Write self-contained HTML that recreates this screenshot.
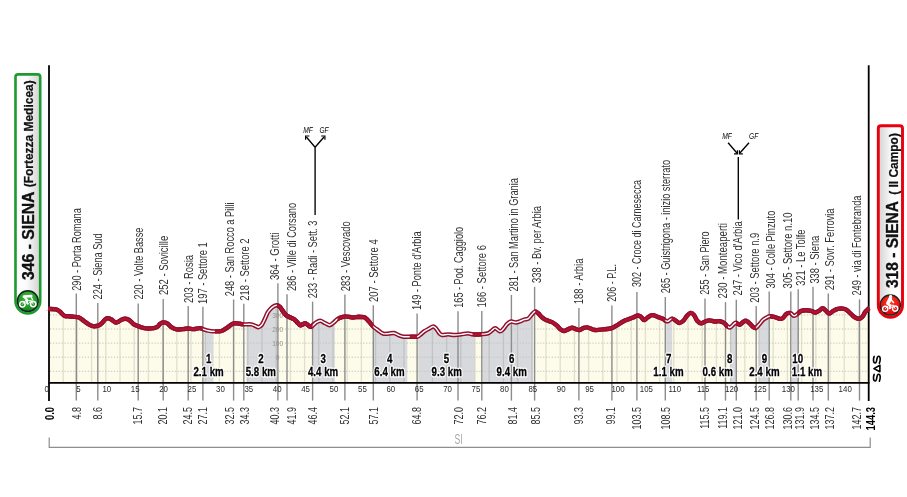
<!DOCTYPE html>
<html lang="en"><head><meta charset="utf-8"><title>Strade Bianche - Altimetria</title>
<style>html,body{margin:0;padding:0;background:#fff}svg{display:block;will-change:transform}text{font-family:"Liberation Sans",sans-serif}</style>
</head><body>
<svg width="907" height="497" viewBox="0 0 907 497">
<defs>
<clipPath id="ua"><path d="M48.0 308.8C48.2 308.8 47.7 308.8 49.0 308.9C50.3 309.0 54.1 308.9 55.9 309.3C57.7 309.7 58.4 310.4 59.8 311.5C61.2 312.6 63.1 315.1 64.5 315.9C65.9 316.7 67.0 316.0 68.4 316.2C69.8 316.4 71.3 316.6 73.1 316.8C74.9 317.0 77.2 316.8 79.0 317.5C80.8 318.2 82.2 319.7 83.7 320.8C85.2 321.9 86.8 323.2 88.3 324.1C89.8 325.0 91.2 325.8 92.9 326.1C94.6 326.4 96.7 326.2 98.2 325.7C99.8 325.1 101.0 323.9 102.2 322.8C103.4 321.7 104.5 319.9 105.5 319.1C106.5 318.3 107.1 318.1 108.1 318.2C109.1 318.3 110.2 318.8 111.4 319.5C112.6 320.2 114.3 322.0 115.4 322.4C116.5 322.8 117.0 322.4 118.1 321.9C119.2 321.4 120.8 320.0 122.0 319.5C123.2 319.0 124.1 318.7 125.3 318.8C126.5 318.9 127.9 319.2 129.3 320.1C130.7 321.0 132.4 323.3 133.9 324.4C135.4 325.4 137.1 325.8 138.6 326.4C140.1 327.0 141.5 327.4 143.2 327.8C144.8 328.2 146.7 328.4 148.5 328.5C150.3 328.6 152.2 328.4 153.8 328.1C155.4 327.8 156.8 327.2 157.8 326.5C158.8 325.8 159.0 324.8 159.9 324.1C160.8 323.4 162.0 322.5 163.2 322.4C164.4 322.3 165.8 322.6 167.2 323.4C168.6 324.2 170.2 326.4 171.8 327.4C173.4 328.4 174.6 329.1 176.5 329.4C178.4 329.7 181.1 329.2 183.1 329.1C185.1 329.0 186.6 328.5 188.4 328.5C190.2 328.5 191.8 329.2 193.7 329.1C195.6 329.0 198.1 328.1 199.6 328.1C201.1 328.1 201.5 328.7 202.9 329.1C204.3 329.5 206.3 330.3 208.2 330.7C210.1 331.1 212.0 331.3 214.2 331.4C216.4 331.4 219.3 331.6 221.4 331.0C223.5 330.4 224.9 329.2 226.7 328.1C228.5 327.0 230.7 324.9 232.0 324.1C233.3 323.3 233.4 323.3 234.7 323.2C236.0 323.1 238.5 323.5 240.0 323.7C241.5 323.9 242.0 324.3 243.9 324.4C245.8 324.5 249.2 324.1 251.2 324.4C253.2 324.7 254.6 325.6 255.8 326.1C257.0 326.6 257.5 327.4 258.5 327.2C259.5 327.0 260.7 326.2 261.8 324.8C262.9 323.4 264.0 320.6 265.0 318.5C266.0 316.4 266.8 314.0 267.9 312.2C269.0 310.4 270.5 308.8 271.9 307.6C273.3 306.5 275.2 305.4 276.5 305.3C277.8 305.2 278.7 305.9 279.8 306.9C280.9 307.9 282.1 310.1 283.2 311.5C284.3 312.9 285.3 314.5 286.5 315.5C287.7 316.5 289.1 316.8 290.4 317.5C291.7 318.2 293.2 318.6 294.4 319.5C295.6 320.4 296.7 321.9 297.7 322.8C298.7 323.8 299.2 325.1 300.4 325.2C301.6 325.3 303.8 323.5 305.0 323.4C306.2 323.3 306.6 324.2 307.6 324.8C308.6 325.4 309.6 327.1 310.9 326.8C312.2 326.5 314.1 323.8 315.6 322.8C317.2 321.8 318.7 320.8 320.2 320.8C321.7 320.8 323.2 322.3 324.8 323.0C326.4 323.7 328.1 325.2 329.5 325.2C330.9 325.2 332.1 323.8 333.4 322.8C334.7 321.8 336.0 320.0 337.4 319.1C338.8 318.2 340.6 317.6 342.0 317.2C343.4 316.8 344.2 316.3 346.0 316.4C347.8 316.4 350.5 317.4 352.6 317.5C354.7 317.6 356.7 316.9 358.6 316.8C360.5 316.8 362.5 316.8 363.9 317.2C365.3 317.6 366.1 318.5 367.2 319.5C368.3 320.5 369.5 322.2 370.5 323.4C371.5 324.6 371.9 325.4 373.1 326.5C374.3 327.6 376.2 328.9 377.9 330.1C379.6 331.3 381.4 333.0 383.2 333.6C385.0 334.2 386.7 333.7 388.5 333.6C390.3 333.5 392.0 332.7 393.8 333.0C395.6 333.3 397.5 334.8 399.1 335.4C400.8 336.0 402.1 336.5 403.7 336.7C405.2 336.9 406.2 336.7 408.4 336.7C410.6 336.7 415.0 337.0 417.0 336.7C419.0 336.4 419.1 335.6 420.3 334.7C421.5 333.8 422.8 332.4 424.2 331.4C425.6 330.4 427.4 329.5 428.9 328.7C430.4 327.9 432.0 326.5 433.2 326.5C434.4 326.5 435.1 327.6 436.2 328.7C437.2 329.8 438.5 332.3 439.5 333.4C440.5 334.4 440.7 334.8 442.1 335.0C443.5 335.2 446.0 334.4 448.1 334.4C450.2 334.4 452.5 335.0 454.7 335.0C456.9 335.0 459.1 334.7 461.3 334.4C463.5 334.1 465.9 333.4 467.9 333.4C469.9 333.4 471.0 334.3 473.2 334.4C475.4 334.5 478.7 334.4 481.1 334.2C483.6 334.0 486.1 334.0 487.9 333.4C489.7 332.8 490.7 331.4 491.9 330.5C493.1 329.6 493.9 328.0 495.2 328.1C496.5 328.2 498.5 331.2 499.8 331.4C501.1 331.6 502.0 330.3 503.2 329.1C504.4 327.9 505.8 325.4 507.1 324.1C508.4 322.8 509.7 321.8 511.1 321.5C512.5 321.2 514.3 322.5 515.7 322.5C517.1 322.5 518.3 322.0 519.7 321.5C521.1 321.0 522.9 320.0 524.3 319.5C525.7 319.0 527.1 319.4 528.3 318.6C529.5 317.8 530.5 316.0 531.6 314.8C532.7 313.6 533.8 311.8 534.9 311.5C536.0 311.2 537.0 312.3 538.2 313.3C539.4 314.3 540.9 316.4 542.2 317.5C543.5 318.6 544.6 319.3 546.2 320.1C547.9 320.9 550.4 321.2 552.1 322.1C553.9 323.0 555.3 324.2 556.7 325.4C558.1 326.6 559.5 328.5 560.7 329.4C561.9 330.3 562.8 331.0 564.0 331.0C565.2 331.0 566.7 329.9 568.0 329.4C569.3 328.8 570.6 327.8 571.9 327.7C573.2 327.6 574.7 328.7 575.9 329.1C577.1 329.5 578.0 330.3 579.2 330.1C580.4 329.9 581.9 328.6 583.2 328.1C584.5 327.7 585.7 327.2 587.2 327.4C588.8 327.6 591.0 328.9 592.5 329.4C594.0 329.8 594.6 330.1 596.4 330.1C598.2 330.1 600.6 329.7 603.2 329.4C605.8 329.1 609.4 328.9 611.8 328.1C614.2 327.3 615.7 326.0 617.8 324.8C619.9 323.6 622.0 322.0 624.4 320.8C626.8 319.6 630.1 318.7 632.3 317.8C634.5 316.9 636.2 315.7 637.6 315.5C639.0 315.3 639.8 316.0 640.9 316.8C642.0 317.6 643.1 320.0 644.2 320.1C645.3 320.2 646.3 318.3 647.6 317.5C648.9 316.7 650.6 315.2 652.2 315.1C653.9 315.0 655.7 316.2 657.5 316.8C659.3 317.4 661.4 318.1 662.8 318.8C664.2 319.5 664.8 320.4 665.7 320.8C666.6 321.2 667.1 321.6 668.1 321.2C669.1 320.8 670.7 318.7 672.0 318.6C673.3 318.5 674.8 320.1 676.0 320.8C677.2 321.5 678.1 323.0 679.3 323.0C680.5 323.0 682.0 322.1 683.3 320.8C684.6 319.6 686.0 316.8 687.2 315.5C688.4 314.2 689.5 313.0 690.6 312.9C691.7 312.8 692.8 313.5 693.9 314.8C695.0 316.1 696.0 319.4 697.2 320.8C698.4 322.2 699.8 323.3 701.1 323.4C702.4 323.5 703.7 322.0 705.1 321.5C706.5 321.0 707.7 320.4 709.3 320.4C710.9 320.4 712.9 321.4 714.6 321.5C716.4 321.6 718.3 321.0 719.8 321.2C721.3 321.4 722.5 321.9 723.8 322.8C725.1 323.7 726.7 325.7 727.8 326.5C728.9 327.3 729.3 327.7 730.2 327.4C731.1 327.1 732.2 325.6 733.1 324.8C734.0 324.0 734.6 322.8 735.7 322.8C736.8 322.8 738.5 324.9 739.7 324.8C740.9 324.7 741.9 322.8 743.0 322.1C744.1 321.4 745.2 320.6 746.3 320.8C747.4 321.0 748.5 322.4 749.6 323.4C750.7 324.4 751.9 326.0 752.9 326.8C753.9 327.6 754.6 328.4 755.6 328.1C756.6 327.8 757.7 326.1 758.9 324.8C760.1 323.5 761.5 321.3 762.8 320.1C764.1 318.9 765.7 318.1 766.8 317.5C767.9 316.9 768.3 316.3 769.5 316.2C770.7 316.1 772.5 316.4 774.1 316.8C775.8 317.2 778.0 318.6 779.4 318.8C780.8 319.0 781.6 319.0 782.7 318.2C783.8 317.4 784.9 315.1 786.0 314.2C787.1 313.3 788.4 313.0 789.3 312.9C790.2 312.8 790.5 313.0 791.3 313.5C792.1 314.0 793.1 315.9 794.2 315.9C795.3 315.9 796.7 314.3 797.9 313.5C799.1 312.7 799.9 311.4 801.2 310.9C802.5 310.3 804.1 310.2 805.8 310.2C807.4 310.2 809.5 310.5 811.1 310.9C812.7 311.3 814.0 312.4 815.1 312.5C816.2 312.6 817.0 311.8 817.7 311.5C818.4 311.2 818.6 311.2 819.4 310.6C820.2 310.1 821.6 308.1 822.7 308.2C823.8 308.2 824.9 310.0 826.0 310.9C827.1 311.8 828.1 313.5 829.3 313.5C830.5 313.5 831.9 311.7 833.3 310.9C834.7 310.1 836.3 309.3 837.9 308.9C839.5 308.5 841.2 308.5 842.6 308.6C844.0 308.8 845.2 309.0 846.5 309.8C847.8 310.6 849.2 312.3 850.5 313.5C851.8 314.7 853.1 316.3 854.5 317.2C855.9 318.1 857.8 318.9 859.1 318.8C860.4 318.7 861.4 317.9 862.4 316.8C863.4 315.7 864.1 313.5 865.1 312.2C866.1 310.9 867.7 309.6 868.4 308.9C869.1 308.2 869.2 308.1 869.4 308.0L869.4 382.4 L48.0 382.4 Z"/></clipPath>
<clipPath id="sw"><rect x="202.9" y="290" width="12.0" height="100"/><rect x="243.8" y="290" width="33.0" height="100"/><rect x="312.6" y="290" width="24.9" height="100"/><rect x="373.3" y="290" width="36.4" height="100"/><rect x="417.1" y="290" width="55.4" height="100"/><rect x="481.8" y="290" width="53.4" height="100"/><rect x="665.3" y="290" width="6.2" height="100"/><rect x="728.0" y="290" width="8.0" height="100"/><rect x="756.2" y="290" width="13.6" height="100"/><rect x="790.8" y="290" width="6.3" height="100"/></clipPath>
<clipPath id="ns"><rect x="40.0" y="290" width="162.9" height="100"/><rect x="214.9" y="290" width="28.9" height="100"/><rect x="276.8" y="290" width="35.8" height="100"/><rect x="337.5" y="290" width="35.8" height="100"/><rect x="409.7" y="290" width="7.4" height="100"/><rect x="472.5" y="290" width="9.3" height="100"/><rect x="535.2" y="290" width="130.1" height="100"/><rect x="671.5" y="290" width="56.5" height="100"/><rect x="736.0" y="290" width="20.2" height="100"/><rect x="769.8" y="290" width="21.0" height="100"/><rect x="797.1" y="290" width="82.9" height="100"/></clipPath>
<clipPath id="tk"><rect x="279.5" y="290" width="32.5" height="100"/></clipPath>
<linearGradient id="gl" x1="0" x2="1" y1="0" y2="0"><stop offset="0" stop-color="#fff"/><stop offset="0.45" stop-color="#fbfbfb"/><stop offset="1" stop-color="#d2d2d2"/></linearGradient>
<linearGradient id="gr" x1="0" x2="1" y1="0" y2="0"><stop offset="0" stop-color="#d2d2d2"/><stop offset="0.55" stop-color="#fbfbfb"/><stop offset="1" stop-color="#fff"/></linearGradient>
<radialGradient id="gg" cx="0.5" cy="0.35" r="0.7"><stop offset="0" stop-color="#3fbf3f"/><stop offset="1" stop-color="#0f7d1c"/></radialGradient>
<radialGradient id="rg" cx="0.5" cy="0.35" r="0.7"><stop offset="0" stop-color="#ff3a20"/><stop offset="1" stop-color="#d80010"/></radialGradient>
</defs>
<rect width="907" height="497" fill="#fff"/>
<path d="M48.0 308.8C48.2 308.8 47.7 308.8 49.0 308.9C50.3 309.0 54.1 308.9 55.9 309.3C57.7 309.7 58.4 310.4 59.8 311.5C61.2 312.6 63.1 315.1 64.5 315.9C65.9 316.7 67.0 316.0 68.4 316.2C69.8 316.4 71.3 316.6 73.1 316.8C74.9 317.0 77.2 316.8 79.0 317.5C80.8 318.2 82.2 319.7 83.7 320.8C85.2 321.9 86.8 323.2 88.3 324.1C89.8 325.0 91.2 325.8 92.9 326.1C94.6 326.4 96.7 326.2 98.2 325.7C99.8 325.1 101.0 323.9 102.2 322.8C103.4 321.7 104.5 319.9 105.5 319.1C106.5 318.3 107.1 318.1 108.1 318.2C109.1 318.3 110.2 318.8 111.4 319.5C112.6 320.2 114.3 322.0 115.4 322.4C116.5 322.8 117.0 322.4 118.1 321.9C119.2 321.4 120.8 320.0 122.0 319.5C123.2 319.0 124.1 318.7 125.3 318.8C126.5 318.9 127.9 319.2 129.3 320.1C130.7 321.0 132.4 323.3 133.9 324.4C135.4 325.4 137.1 325.8 138.6 326.4C140.1 327.0 141.5 327.4 143.2 327.8C144.8 328.2 146.7 328.4 148.5 328.5C150.3 328.6 152.2 328.4 153.8 328.1C155.4 327.8 156.8 327.2 157.8 326.5C158.8 325.8 159.0 324.8 159.9 324.1C160.8 323.4 162.0 322.5 163.2 322.4C164.4 322.3 165.8 322.6 167.2 323.4C168.6 324.2 170.2 326.4 171.8 327.4C173.4 328.4 174.6 329.1 176.5 329.4C178.4 329.7 181.1 329.2 183.1 329.1C185.1 329.0 186.6 328.5 188.4 328.5C190.2 328.5 191.8 329.2 193.7 329.1C195.6 329.0 198.1 328.1 199.6 328.1C201.1 328.1 201.5 328.7 202.9 329.1C204.3 329.5 206.3 330.3 208.2 330.7C210.1 331.1 212.0 331.3 214.2 331.4C216.4 331.4 219.3 331.6 221.4 331.0C223.5 330.4 224.9 329.2 226.7 328.1C228.5 327.0 230.7 324.9 232.0 324.1C233.3 323.3 233.4 323.3 234.7 323.2C236.0 323.1 238.5 323.5 240.0 323.7C241.5 323.9 242.0 324.3 243.9 324.4C245.8 324.5 249.2 324.1 251.2 324.4C253.2 324.7 254.6 325.6 255.8 326.1C257.0 326.6 257.5 327.4 258.5 327.2C259.5 327.0 260.7 326.2 261.8 324.8C262.9 323.4 264.0 320.6 265.0 318.5C266.0 316.4 266.8 314.0 267.9 312.2C269.0 310.4 270.5 308.8 271.9 307.6C273.3 306.5 275.2 305.4 276.5 305.3C277.8 305.2 278.7 305.9 279.8 306.9C280.9 307.9 282.1 310.1 283.2 311.5C284.3 312.9 285.3 314.5 286.5 315.5C287.7 316.5 289.1 316.8 290.4 317.5C291.7 318.2 293.2 318.6 294.4 319.5C295.6 320.4 296.7 321.9 297.7 322.8C298.7 323.8 299.2 325.1 300.4 325.2C301.6 325.3 303.8 323.5 305.0 323.4C306.2 323.3 306.6 324.2 307.6 324.8C308.6 325.4 309.6 327.1 310.9 326.8C312.2 326.5 314.1 323.8 315.6 322.8C317.2 321.8 318.7 320.8 320.2 320.8C321.7 320.8 323.2 322.3 324.8 323.0C326.4 323.7 328.1 325.2 329.5 325.2C330.9 325.2 332.1 323.8 333.4 322.8C334.7 321.8 336.0 320.0 337.4 319.1C338.8 318.2 340.6 317.6 342.0 317.2C343.4 316.8 344.2 316.3 346.0 316.4C347.8 316.4 350.5 317.4 352.6 317.5C354.7 317.6 356.7 316.9 358.6 316.8C360.5 316.8 362.5 316.8 363.9 317.2C365.3 317.6 366.1 318.5 367.2 319.5C368.3 320.5 369.5 322.2 370.5 323.4C371.5 324.6 371.9 325.4 373.1 326.5C374.3 327.6 376.2 328.9 377.9 330.1C379.6 331.3 381.4 333.0 383.2 333.6C385.0 334.2 386.7 333.7 388.5 333.6C390.3 333.5 392.0 332.7 393.8 333.0C395.6 333.3 397.5 334.8 399.1 335.4C400.8 336.0 402.1 336.5 403.7 336.7C405.2 336.9 406.2 336.7 408.4 336.7C410.6 336.7 415.0 337.0 417.0 336.7C419.0 336.4 419.1 335.6 420.3 334.7C421.5 333.8 422.8 332.4 424.2 331.4C425.6 330.4 427.4 329.5 428.9 328.7C430.4 327.9 432.0 326.5 433.2 326.5C434.4 326.5 435.1 327.6 436.2 328.7C437.2 329.8 438.5 332.3 439.5 333.4C440.5 334.4 440.7 334.8 442.1 335.0C443.5 335.2 446.0 334.4 448.1 334.4C450.2 334.4 452.5 335.0 454.7 335.0C456.9 335.0 459.1 334.7 461.3 334.4C463.5 334.1 465.9 333.4 467.9 333.4C469.9 333.4 471.0 334.3 473.2 334.4C475.4 334.5 478.7 334.4 481.1 334.2C483.6 334.0 486.1 334.0 487.9 333.4C489.7 332.8 490.7 331.4 491.9 330.5C493.1 329.6 493.9 328.0 495.2 328.1C496.5 328.2 498.5 331.2 499.8 331.4C501.1 331.6 502.0 330.3 503.2 329.1C504.4 327.9 505.8 325.4 507.1 324.1C508.4 322.8 509.7 321.8 511.1 321.5C512.5 321.2 514.3 322.5 515.7 322.5C517.1 322.5 518.3 322.0 519.7 321.5C521.1 321.0 522.9 320.0 524.3 319.5C525.7 319.0 527.1 319.4 528.3 318.6C529.5 317.8 530.5 316.0 531.6 314.8C532.7 313.6 533.8 311.8 534.9 311.5C536.0 311.2 537.0 312.3 538.2 313.3C539.4 314.3 540.9 316.4 542.2 317.5C543.5 318.6 544.6 319.3 546.2 320.1C547.9 320.9 550.4 321.2 552.1 322.1C553.9 323.0 555.3 324.2 556.7 325.4C558.1 326.6 559.5 328.5 560.7 329.4C561.9 330.3 562.8 331.0 564.0 331.0C565.2 331.0 566.7 329.9 568.0 329.4C569.3 328.8 570.6 327.8 571.9 327.7C573.2 327.6 574.7 328.7 575.9 329.1C577.1 329.5 578.0 330.3 579.2 330.1C580.4 329.9 581.9 328.6 583.2 328.1C584.5 327.7 585.7 327.2 587.2 327.4C588.8 327.6 591.0 328.9 592.5 329.4C594.0 329.8 594.6 330.1 596.4 330.1C598.2 330.1 600.6 329.7 603.2 329.4C605.8 329.1 609.4 328.9 611.8 328.1C614.2 327.3 615.7 326.0 617.8 324.8C619.9 323.6 622.0 322.0 624.4 320.8C626.8 319.6 630.1 318.7 632.3 317.8C634.5 316.9 636.2 315.7 637.6 315.5C639.0 315.3 639.8 316.0 640.9 316.8C642.0 317.6 643.1 320.0 644.2 320.1C645.3 320.2 646.3 318.3 647.6 317.5C648.9 316.7 650.6 315.2 652.2 315.1C653.9 315.0 655.7 316.2 657.5 316.8C659.3 317.4 661.4 318.1 662.8 318.8C664.2 319.5 664.8 320.4 665.7 320.8C666.6 321.2 667.1 321.6 668.1 321.2C669.1 320.8 670.7 318.7 672.0 318.6C673.3 318.5 674.8 320.1 676.0 320.8C677.2 321.5 678.1 323.0 679.3 323.0C680.5 323.0 682.0 322.1 683.3 320.8C684.6 319.6 686.0 316.8 687.2 315.5C688.4 314.2 689.5 313.0 690.6 312.9C691.7 312.8 692.8 313.5 693.9 314.8C695.0 316.1 696.0 319.4 697.2 320.8C698.4 322.2 699.8 323.3 701.1 323.4C702.4 323.5 703.7 322.0 705.1 321.5C706.5 321.0 707.7 320.4 709.3 320.4C710.9 320.4 712.9 321.4 714.6 321.5C716.4 321.6 718.3 321.0 719.8 321.2C721.3 321.4 722.5 321.9 723.8 322.8C725.1 323.7 726.7 325.7 727.8 326.5C728.9 327.3 729.3 327.7 730.2 327.4C731.1 327.1 732.2 325.6 733.1 324.8C734.0 324.0 734.6 322.8 735.7 322.8C736.8 322.8 738.5 324.9 739.7 324.8C740.9 324.7 741.9 322.8 743.0 322.1C744.1 321.4 745.2 320.6 746.3 320.8C747.4 321.0 748.5 322.4 749.6 323.4C750.7 324.4 751.9 326.0 752.9 326.8C753.9 327.6 754.6 328.4 755.6 328.1C756.6 327.8 757.7 326.1 758.9 324.8C760.1 323.5 761.5 321.3 762.8 320.1C764.1 318.9 765.7 318.1 766.8 317.5C767.9 316.9 768.3 316.3 769.5 316.2C770.7 316.1 772.5 316.4 774.1 316.8C775.8 317.2 778.0 318.6 779.4 318.8C780.8 319.0 781.6 319.0 782.7 318.2C783.8 317.4 784.9 315.1 786.0 314.2C787.1 313.3 788.4 313.0 789.3 312.9C790.2 312.8 790.5 313.0 791.3 313.5C792.1 314.0 793.1 315.9 794.2 315.9C795.3 315.9 796.7 314.3 797.9 313.5C799.1 312.7 799.9 311.4 801.2 310.9C802.5 310.3 804.1 310.2 805.8 310.2C807.4 310.2 809.5 310.5 811.1 310.9C812.7 311.3 814.0 312.4 815.1 312.5C816.2 312.6 817.0 311.8 817.7 311.5C818.4 311.2 818.6 311.2 819.4 310.6C820.2 310.1 821.6 308.1 822.7 308.2C823.8 308.2 824.9 310.0 826.0 310.9C827.1 311.8 828.1 313.5 829.3 313.5C830.5 313.5 831.9 311.7 833.3 310.9C834.7 310.1 836.3 309.3 837.9 308.9C839.5 308.5 841.2 308.5 842.6 308.6C844.0 308.8 845.2 309.0 846.5 309.8C847.8 310.6 849.2 312.3 850.5 313.5C851.8 314.7 853.1 316.3 854.5 317.2C855.9 318.1 857.8 318.9 859.1 318.8C860.4 318.7 861.4 317.9 862.4 316.8C863.4 315.7 864.1 313.5 865.1 312.2C866.1 310.9 867.7 309.6 868.4 308.9C869.1 308.2 869.2 308.1 869.4 308.0L869.4 382.4 L48.0 382.4 Z" fill="#fdfbe9"/>
<g clip-path="url(#ua)">
<rect x="204.5" y="295" width="9.0" height="90" fill="#d8d9dd"/>
<rect x="246.5" y="295" width="30.8" height="90" fill="#d8d9dd"/>
<rect x="313.2" y="295" width="21.6" height="90" fill="#d8d9dd"/>
<rect x="374.0" y="295" width="33.3" height="90" fill="#d8d9dd"/>
<rect x="419.0" y="295" width="55.6" height="90" fill="#d8d9dd"/>
<rect x="482.6" y="295" width="50.6" height="90" fill="#d8d9dd"/>
<rect x="666.2" y="295" width="6.0" height="90" fill="#d8d9dd"/>
<rect x="730.0" y="295" width="5.9" height="90" fill="#d8d9dd"/>
<rect x="758.6" y="295" width="10.3" height="90" fill="#d8d9dd"/>
<rect x="791.8" y="295" width="6.6" height="90" fill="#d8d9dd"/>
<line x1="63.2" y1="295" x2="63.2" y2="383" stroke="#5a5a46" stroke-opacity="0.17" stroke-width="1.3"/>
<line x1="77.4" y1="295" x2="77.4" y2="383" stroke="#5a5a46" stroke-opacity="0.17" stroke-width="1.3"/>
<line x1="91.6" y1="295" x2="91.6" y2="383" stroke="#5a5a46" stroke-opacity="0.17" stroke-width="1.3"/>
<line x1="105.8" y1="295" x2="105.8" y2="383" stroke="#5a5a46" stroke-opacity="0.17" stroke-width="1.3"/>
<line x1="120.0" y1="295" x2="120.0" y2="383" stroke="#5a5a46" stroke-opacity="0.17" stroke-width="1.3"/>
<line x1="134.2" y1="295" x2="134.2" y2="383" stroke="#5a5a46" stroke-opacity="0.17" stroke-width="1.3"/>
<line x1="148.4" y1="295" x2="148.4" y2="383" stroke="#5a5a46" stroke-opacity="0.17" stroke-width="1.3"/>
<line x1="162.6" y1="295" x2="162.6" y2="383" stroke="#5a5a46" stroke-opacity="0.17" stroke-width="1.3"/>
<line x1="176.8" y1="295" x2="176.8" y2="383" stroke="#5a5a46" stroke-opacity="0.17" stroke-width="1.3"/>
<line x1="191.0" y1="295" x2="191.0" y2="383" stroke="#5a5a46" stroke-opacity="0.17" stroke-width="1.3"/>
<line x1="205.2" y1="295" x2="205.2" y2="383" stroke="#5a5a46" stroke-opacity="0.17" stroke-width="1.3"/>
<line x1="219.4" y1="295" x2="219.4" y2="383" stroke="#5a5a46" stroke-opacity="0.17" stroke-width="1.3"/>
<line x1="233.6" y1="295" x2="233.6" y2="383" stroke="#5a5a46" stroke-opacity="0.17" stroke-width="1.3"/>
<line x1="247.8" y1="295" x2="247.8" y2="383" stroke="#5a5a46" stroke-opacity="0.17" stroke-width="1.3"/>
<line x1="262.0" y1="295" x2="262.0" y2="383" stroke="#5a5a46" stroke-opacity="0.17" stroke-width="1.3"/>
<line x1="276.2" y1="295" x2="276.2" y2="383" stroke="#5a5a46" stroke-opacity="0.17" stroke-width="1.3"/>
<line x1="290.4" y1="295" x2="290.4" y2="383" stroke="#5a5a46" stroke-opacity="0.17" stroke-width="1.3"/>
<line x1="304.6" y1="295" x2="304.6" y2="383" stroke="#5a5a46" stroke-opacity="0.17" stroke-width="1.3"/>
<line x1="318.8" y1="295" x2="318.8" y2="383" stroke="#5a5a46" stroke-opacity="0.17" stroke-width="1.3"/>
<line x1="333.0" y1="295" x2="333.0" y2="383" stroke="#5a5a46" stroke-opacity="0.17" stroke-width="1.3"/>
<line x1="347.2" y1="295" x2="347.2" y2="383" stroke="#5a5a46" stroke-opacity="0.17" stroke-width="1.3"/>
<line x1="361.4" y1="295" x2="361.4" y2="383" stroke="#5a5a46" stroke-opacity="0.17" stroke-width="1.3"/>
<line x1="375.6" y1="295" x2="375.6" y2="383" stroke="#5a5a46" stroke-opacity="0.17" stroke-width="1.3"/>
<line x1="389.8" y1="295" x2="389.8" y2="383" stroke="#5a5a46" stroke-opacity="0.17" stroke-width="1.3"/>
<line x1="404.0" y1="295" x2="404.0" y2="383" stroke="#5a5a46" stroke-opacity="0.17" stroke-width="1.3"/>
<line x1="418.2" y1="295" x2="418.2" y2="383" stroke="#5a5a46" stroke-opacity="0.17" stroke-width="1.3"/>
<line x1="432.4" y1="295" x2="432.4" y2="383" stroke="#5a5a46" stroke-opacity="0.17" stroke-width="1.3"/>
<line x1="446.6" y1="295" x2="446.6" y2="383" stroke="#5a5a46" stroke-opacity="0.17" stroke-width="1.3"/>
<line x1="460.8" y1="295" x2="460.8" y2="383" stroke="#5a5a46" stroke-opacity="0.17" stroke-width="1.3"/>
<line x1="475.0" y1="295" x2="475.0" y2="383" stroke="#5a5a46" stroke-opacity="0.17" stroke-width="1.3"/>
<line x1="489.2" y1="295" x2="489.2" y2="383" stroke="#5a5a46" stroke-opacity="0.17" stroke-width="1.3"/>
<line x1="503.4" y1="295" x2="503.4" y2="383" stroke="#5a5a46" stroke-opacity="0.17" stroke-width="1.3"/>
<line x1="517.6" y1="295" x2="517.6" y2="383" stroke="#5a5a46" stroke-opacity="0.17" stroke-width="1.3"/>
<line x1="531.8" y1="295" x2="531.8" y2="383" stroke="#5a5a46" stroke-opacity="0.17" stroke-width="1.3"/>
<line x1="546.0" y1="295" x2="546.0" y2="383" stroke="#5a5a46" stroke-opacity="0.17" stroke-width="1.3"/>
<line x1="560.2" y1="295" x2="560.2" y2="383" stroke="#5a5a46" stroke-opacity="0.17" stroke-width="1.3"/>
<line x1="574.4" y1="295" x2="574.4" y2="383" stroke="#5a5a46" stroke-opacity="0.17" stroke-width="1.3"/>
<line x1="588.6" y1="295" x2="588.6" y2="383" stroke="#5a5a46" stroke-opacity="0.17" stroke-width="1.3"/>
<line x1="602.8" y1="295" x2="602.8" y2="383" stroke="#5a5a46" stroke-opacity="0.17" stroke-width="1.3"/>
<line x1="617.0" y1="295" x2="617.0" y2="383" stroke="#5a5a46" stroke-opacity="0.17" stroke-width="1.3"/>
<line x1="631.2" y1="295" x2="631.2" y2="383" stroke="#5a5a46" stroke-opacity="0.17" stroke-width="1.3"/>
<line x1="645.4" y1="295" x2="645.4" y2="383" stroke="#5a5a46" stroke-opacity="0.17" stroke-width="1.3"/>
<line x1="659.6" y1="295" x2="659.6" y2="383" stroke="#5a5a46" stroke-opacity="0.17" stroke-width="1.3"/>
<line x1="673.8" y1="295" x2="673.8" y2="383" stroke="#5a5a46" stroke-opacity="0.17" stroke-width="1.3"/>
<line x1="688.0" y1="295" x2="688.0" y2="383" stroke="#5a5a46" stroke-opacity="0.17" stroke-width="1.3"/>
<line x1="702.2" y1="295" x2="702.2" y2="383" stroke="#5a5a46" stroke-opacity="0.17" stroke-width="1.3"/>
<line x1="716.4" y1="295" x2="716.4" y2="383" stroke="#5a5a46" stroke-opacity="0.17" stroke-width="1.3"/>
<line x1="730.6" y1="295" x2="730.6" y2="383" stroke="#5a5a46" stroke-opacity="0.17" stroke-width="1.3"/>
<line x1="744.8" y1="295" x2="744.8" y2="383" stroke="#5a5a46" stroke-opacity="0.17" stroke-width="1.3"/>
<line x1="759.0" y1="295" x2="759.0" y2="383" stroke="#5a5a46" stroke-opacity="0.17" stroke-width="1.3"/>
<line x1="773.2" y1="295" x2="773.2" y2="383" stroke="#5a5a46" stroke-opacity="0.17" stroke-width="1.3"/>
<line x1="787.4" y1="295" x2="787.4" y2="383" stroke="#5a5a46" stroke-opacity="0.17" stroke-width="1.3"/>
<line x1="801.6" y1="295" x2="801.6" y2="383" stroke="#5a5a46" stroke-opacity="0.17" stroke-width="1.3"/>
<line x1="815.8" y1="295" x2="815.8" y2="383" stroke="#5a5a46" stroke-opacity="0.17" stroke-width="1.3"/>
<line x1="830.0" y1="295" x2="830.0" y2="383" stroke="#5a5a46" stroke-opacity="0.17" stroke-width="1.3"/>
<line x1="844.2" y1="295" x2="844.2" y2="383" stroke="#5a5a46" stroke-opacity="0.17" stroke-width="1.3"/>
<line x1="858.4" y1="295" x2="858.4" y2="383" stroke="#5a5a46" stroke-opacity="0.17" stroke-width="1.3"/>
<line x1="50" y1="314.9" x2="868" y2="314.9" stroke="#c4c4c4" stroke-width="1" stroke-dasharray="1.3 1.6"/>
<line x1="50" y1="329.0" x2="868" y2="329.0" stroke="#c4c4c4" stroke-width="1" stroke-dasharray="1.3 1.6"/>
<line x1="50" y1="343.1" x2="868" y2="343.1" stroke="#c4c4c4" stroke-width="1" stroke-dasharray="1.3 1.6"/>
<line x1="50" y1="357.2" x2="868" y2="357.2" stroke="#c4c4c4" stroke-width="1" stroke-dasharray="1.3 1.6"/>
<line x1="50" y1="371.3" x2="868" y2="371.3" stroke="#c4c4c4" stroke-width="1" stroke-dasharray="1.3 1.6"/>
</g>
<text transform="translate(277.6 317.6) scale(0.85 1)" font-size="7.6" text-anchor="middle" fill="#8e8e8e">300</text>
<text transform="translate(277.6 331.7) scale(0.85 1)" font-size="7.6" text-anchor="middle" fill="#8e8e8e">200</text>
<text transform="translate(277.6 345.8) scale(0.85 1)" font-size="7.6" text-anchor="middle" fill="#8e8e8e">100</text>
<text transform="translate(277.6 359.9) scale(0.85 1)" font-size="7.6" text-anchor="middle" fill="#8e8e8e">0</text>
<line x1="76.3" y1="293.6" x2="76.3" y2="400.6" stroke="#8c8c8c" stroke-width="1.4"/>
<line x1="97.8" y1="302.9" x2="97.8" y2="400.6" stroke="#8c8c8c" stroke-width="1.4"/>
<line x1="138.2" y1="303.5" x2="138.2" y2="400.6" stroke="#8c8c8c" stroke-width="1.4"/>
<line x1="163.2" y1="299.0" x2="163.2" y2="400.6" stroke="#8c8c8c" stroke-width="1.4"/>
<line x1="188.2" y1="305.9" x2="188.2" y2="400.6" stroke="#8c8c8c" stroke-width="1.4"/>
<line x1="202.9" y1="306.7" x2="202.9" y2="400.6" stroke="#8c8c8c" stroke-width="1.4"/>
<line x1="233.6" y1="299.5" x2="233.6" y2="400.6" stroke="#8c8c8c" stroke-width="1.4"/>
<line x1="243.8" y1="303.8" x2="243.8" y2="400.6" stroke="#8c8c8c" stroke-width="1.4"/>
<line x1="277.9" y1="283.2" x2="277.9" y2="400.6" stroke="#8c8c8c" stroke-width="1.4"/>
<line x1="287.0" y1="294.2" x2="287.0" y2="400.6" stroke="#8c8c8c" stroke-width="1.4"/>
<line x1="312.6" y1="301.6" x2="312.6" y2="400.6" stroke="#8c8c8c" stroke-width="1.4"/>
<line x1="344.9" y1="294.6" x2="344.9" y2="400.6" stroke="#8c8c8c" stroke-width="1.4"/>
<line x1="373.3" y1="305.3" x2="373.3" y2="400.6" stroke="#8c8c8c" stroke-width="1.4"/>
<line x1="417.1" y1="313.5" x2="417.1" y2="400.6" stroke="#8c8c8c" stroke-width="1.4"/>
<line x1="458.0" y1="311.2" x2="458.0" y2="400.6" stroke="#8c8c8c" stroke-width="1.4"/>
<line x1="481.8" y1="311.1" x2="481.8" y2="400.6" stroke="#8c8c8c" stroke-width="1.4"/>
<line x1="511.4" y1="294.9" x2="511.4" y2="400.6" stroke="#8c8c8c" stroke-width="1.4"/>
<line x1="534.6" y1="286.8" x2="534.6" y2="400.6" stroke="#8c8c8c" stroke-width="1.4"/>
<line x1="578.9" y1="308.0" x2="578.9" y2="400.6" stroke="#8c8c8c" stroke-width="1.4"/>
<line x1="611.9" y1="305.5" x2="611.9" y2="400.6" stroke="#8c8c8c" stroke-width="1.4"/>
<line x1="636.9" y1="291.9" x2="636.9" y2="400.6" stroke="#8c8c8c" stroke-width="1.4"/>
<line x1="665.3" y1="297.1" x2="665.3" y2="400.6" stroke="#8c8c8c" stroke-width="1.4"/>
<line x1="705.0" y1="298.5" x2="705.0" y2="400.6" stroke="#8c8c8c" stroke-width="1.4"/>
<line x1="725.5" y1="302.1" x2="725.5" y2="400.6" stroke="#8c8c8c" stroke-width="1.4"/>
<line x1="736.3" y1="299.7" x2="736.3" y2="400.6" stroke="#8c8c8c" stroke-width="1.4"/>
<line x1="756.2" y1="305.9" x2="756.2" y2="400.6" stroke="#8c8c8c" stroke-width="1.4"/>
<line x1="769.2" y1="291.6" x2="769.2" y2="400.6" stroke="#8c8c8c" stroke-width="1.4"/>
<line x1="790.8" y1="291.5" x2="790.8" y2="400.6" stroke="#8c8c8c" stroke-width="1.4"/>
<line x1="798.2" y1="289.2" x2="798.2" y2="400.6" stroke="#8c8c8c" stroke-width="1.4"/>
<line x1="813.0" y1="286.8" x2="813.0" y2="400.6" stroke="#8c8c8c" stroke-width="1.4"/>
<line x1="828.3" y1="293.5" x2="828.3" y2="400.6" stroke="#8c8c8c" stroke-width="1.4"/>
<line x1="859.5" y1="299.4" x2="859.5" y2="400.6" stroke="#8c8c8c" stroke-width="1.4"/>
<line x1="48.2" y1="382.8" x2="869.5" y2="382.8" stroke="#000" stroke-width="1.8"/>
<line x1="49" y1="65.3" x2="49" y2="400.9" stroke="#000" stroke-width="1.8"/>
<line x1="868.7" y1="65.3" x2="868.7" y2="400.9" stroke="#000" stroke-width="1.8"/>
<path id="pl" d="M48.0 308.8C48.2 308.8 47.7 308.8 49.0 308.9C50.3 309.0 54.1 308.9 55.9 309.3C57.7 309.7 58.4 310.4 59.8 311.5C61.2 312.6 63.1 315.1 64.5 315.9C65.9 316.7 67.0 316.0 68.4 316.2C69.8 316.4 71.3 316.6 73.1 316.8C74.9 317.0 77.2 316.8 79.0 317.5C80.8 318.2 82.2 319.7 83.7 320.8C85.2 321.9 86.8 323.2 88.3 324.1C89.8 325.0 91.2 325.8 92.9 326.1C94.6 326.4 96.7 326.2 98.2 325.7C99.8 325.1 101.0 323.9 102.2 322.8C103.4 321.7 104.5 319.9 105.5 319.1C106.5 318.3 107.1 318.1 108.1 318.2C109.1 318.3 110.2 318.8 111.4 319.5C112.6 320.2 114.3 322.0 115.4 322.4C116.5 322.8 117.0 322.4 118.1 321.9C119.2 321.4 120.8 320.0 122.0 319.5C123.2 319.0 124.1 318.7 125.3 318.8C126.5 318.9 127.9 319.2 129.3 320.1C130.7 321.0 132.4 323.3 133.9 324.4C135.4 325.4 137.1 325.8 138.6 326.4C140.1 327.0 141.5 327.4 143.2 327.8C144.8 328.2 146.7 328.4 148.5 328.5C150.3 328.6 152.2 328.4 153.8 328.1C155.4 327.8 156.8 327.2 157.8 326.5C158.8 325.8 159.0 324.8 159.9 324.1C160.8 323.4 162.0 322.5 163.2 322.4C164.4 322.3 165.8 322.6 167.2 323.4C168.6 324.2 170.2 326.4 171.8 327.4C173.4 328.4 174.6 329.1 176.5 329.4C178.4 329.7 181.1 329.2 183.1 329.1C185.1 329.0 186.6 328.5 188.4 328.5C190.2 328.5 191.8 329.2 193.7 329.1C195.6 329.0 198.1 328.1 199.6 328.1C201.1 328.1 201.5 328.7 202.9 329.1C204.3 329.5 206.3 330.3 208.2 330.7C210.1 331.1 212.0 331.3 214.2 331.4C216.4 331.4 219.3 331.6 221.4 331.0C223.5 330.4 224.9 329.2 226.7 328.1C228.5 327.0 230.7 324.9 232.0 324.1C233.3 323.3 233.4 323.3 234.7 323.2C236.0 323.1 238.5 323.5 240.0 323.7C241.5 323.9 242.0 324.3 243.9 324.4C245.8 324.5 249.2 324.1 251.2 324.4C253.2 324.7 254.6 325.6 255.8 326.1C257.0 326.6 257.5 327.4 258.5 327.2C259.5 327.0 260.7 326.2 261.8 324.8C262.9 323.4 264.0 320.6 265.0 318.5C266.0 316.4 266.8 314.0 267.9 312.2C269.0 310.4 270.5 308.8 271.9 307.6C273.3 306.5 275.2 305.4 276.5 305.3C277.8 305.2 278.7 305.9 279.8 306.9C280.9 307.9 282.1 310.1 283.2 311.5C284.3 312.9 285.3 314.5 286.5 315.5C287.7 316.5 289.1 316.8 290.4 317.5C291.7 318.2 293.2 318.6 294.4 319.5C295.6 320.4 296.7 321.9 297.7 322.8C298.7 323.8 299.2 325.1 300.4 325.2C301.6 325.3 303.8 323.5 305.0 323.4C306.2 323.3 306.6 324.2 307.6 324.8C308.6 325.4 309.6 327.1 310.9 326.8C312.2 326.5 314.1 323.8 315.6 322.8C317.2 321.8 318.7 320.8 320.2 320.8C321.7 320.8 323.2 322.3 324.8 323.0C326.4 323.7 328.1 325.2 329.5 325.2C330.9 325.2 332.1 323.8 333.4 322.8C334.7 321.8 336.0 320.0 337.4 319.1C338.8 318.2 340.6 317.6 342.0 317.2C343.4 316.8 344.2 316.3 346.0 316.4C347.8 316.4 350.5 317.4 352.6 317.5C354.7 317.6 356.7 316.9 358.6 316.8C360.5 316.8 362.5 316.8 363.9 317.2C365.3 317.6 366.1 318.5 367.2 319.5C368.3 320.5 369.5 322.2 370.5 323.4C371.5 324.6 371.9 325.4 373.1 326.5C374.3 327.6 376.2 328.9 377.9 330.1C379.6 331.3 381.4 333.0 383.2 333.6C385.0 334.2 386.7 333.7 388.5 333.6C390.3 333.5 392.0 332.7 393.8 333.0C395.6 333.3 397.5 334.8 399.1 335.4C400.8 336.0 402.1 336.5 403.7 336.7C405.2 336.9 406.2 336.7 408.4 336.7C410.6 336.7 415.0 337.0 417.0 336.7C419.0 336.4 419.1 335.6 420.3 334.7C421.5 333.8 422.8 332.4 424.2 331.4C425.6 330.4 427.4 329.5 428.9 328.7C430.4 327.9 432.0 326.5 433.2 326.5C434.4 326.5 435.1 327.6 436.2 328.7C437.2 329.8 438.5 332.3 439.5 333.4C440.5 334.4 440.7 334.8 442.1 335.0C443.5 335.2 446.0 334.4 448.1 334.4C450.2 334.4 452.5 335.0 454.7 335.0C456.9 335.0 459.1 334.7 461.3 334.4C463.5 334.1 465.9 333.4 467.9 333.4C469.9 333.4 471.0 334.3 473.2 334.4C475.4 334.5 478.7 334.4 481.1 334.2C483.6 334.0 486.1 334.0 487.9 333.4C489.7 332.8 490.7 331.4 491.9 330.5C493.1 329.6 493.9 328.0 495.2 328.1C496.5 328.2 498.5 331.2 499.8 331.4C501.1 331.6 502.0 330.3 503.2 329.1C504.4 327.9 505.8 325.4 507.1 324.1C508.4 322.8 509.7 321.8 511.1 321.5C512.5 321.2 514.3 322.5 515.7 322.5C517.1 322.5 518.3 322.0 519.7 321.5C521.1 321.0 522.9 320.0 524.3 319.5C525.7 319.0 527.1 319.4 528.3 318.6C529.5 317.8 530.5 316.0 531.6 314.8C532.7 313.6 533.8 311.8 534.9 311.5C536.0 311.2 537.0 312.3 538.2 313.3C539.4 314.3 540.9 316.4 542.2 317.5C543.5 318.6 544.6 319.3 546.2 320.1C547.9 320.9 550.4 321.2 552.1 322.1C553.9 323.0 555.3 324.2 556.7 325.4C558.1 326.6 559.5 328.5 560.7 329.4C561.9 330.3 562.8 331.0 564.0 331.0C565.2 331.0 566.7 329.9 568.0 329.4C569.3 328.8 570.6 327.8 571.9 327.7C573.2 327.6 574.7 328.7 575.9 329.1C577.1 329.5 578.0 330.3 579.2 330.1C580.4 329.9 581.9 328.6 583.2 328.1C584.5 327.7 585.7 327.2 587.2 327.4C588.8 327.6 591.0 328.9 592.5 329.4C594.0 329.8 594.6 330.1 596.4 330.1C598.2 330.1 600.6 329.7 603.2 329.4C605.8 329.1 609.4 328.9 611.8 328.1C614.2 327.3 615.7 326.0 617.8 324.8C619.9 323.6 622.0 322.0 624.4 320.8C626.8 319.6 630.1 318.7 632.3 317.8C634.5 316.9 636.2 315.7 637.6 315.5C639.0 315.3 639.8 316.0 640.9 316.8C642.0 317.6 643.1 320.0 644.2 320.1C645.3 320.2 646.3 318.3 647.6 317.5C648.9 316.7 650.6 315.2 652.2 315.1C653.9 315.0 655.7 316.2 657.5 316.8C659.3 317.4 661.4 318.1 662.8 318.8C664.2 319.5 664.8 320.4 665.7 320.8C666.6 321.2 667.1 321.6 668.1 321.2C669.1 320.8 670.7 318.7 672.0 318.6C673.3 318.5 674.8 320.1 676.0 320.8C677.2 321.5 678.1 323.0 679.3 323.0C680.5 323.0 682.0 322.1 683.3 320.8C684.6 319.6 686.0 316.8 687.2 315.5C688.4 314.2 689.5 313.0 690.6 312.9C691.7 312.8 692.8 313.5 693.9 314.8C695.0 316.1 696.0 319.4 697.2 320.8C698.4 322.2 699.8 323.3 701.1 323.4C702.4 323.5 703.7 322.0 705.1 321.5C706.5 321.0 707.7 320.4 709.3 320.4C710.9 320.4 712.9 321.4 714.6 321.5C716.4 321.6 718.3 321.0 719.8 321.2C721.3 321.4 722.5 321.9 723.8 322.8C725.1 323.7 726.7 325.7 727.8 326.5C728.9 327.3 729.3 327.7 730.2 327.4C731.1 327.1 732.2 325.6 733.1 324.8C734.0 324.0 734.6 322.8 735.7 322.8C736.8 322.8 738.5 324.9 739.7 324.8C740.9 324.7 741.9 322.8 743.0 322.1C744.1 321.4 745.2 320.6 746.3 320.8C747.4 321.0 748.5 322.4 749.6 323.4C750.7 324.4 751.9 326.0 752.9 326.8C753.9 327.6 754.6 328.4 755.6 328.1C756.6 327.8 757.7 326.1 758.9 324.8C760.1 323.5 761.5 321.3 762.8 320.1C764.1 318.9 765.7 318.1 766.8 317.5C767.9 316.9 768.3 316.3 769.5 316.2C770.7 316.1 772.5 316.4 774.1 316.8C775.8 317.2 778.0 318.6 779.4 318.8C780.8 319.0 781.6 319.0 782.7 318.2C783.8 317.4 784.9 315.1 786.0 314.2C787.1 313.3 788.4 313.0 789.3 312.9C790.2 312.8 790.5 313.0 791.3 313.5C792.1 314.0 793.1 315.9 794.2 315.9C795.3 315.9 796.7 314.3 797.9 313.5C799.1 312.7 799.9 311.4 801.2 310.9C802.5 310.3 804.1 310.2 805.8 310.2C807.4 310.2 809.5 310.5 811.1 310.9C812.7 311.3 814.0 312.4 815.1 312.5C816.2 312.6 817.0 311.8 817.7 311.5C818.4 311.2 818.6 311.2 819.4 310.6C820.2 310.1 821.6 308.1 822.7 308.2C823.8 308.2 824.9 310.0 826.0 310.9C827.1 311.8 828.1 313.5 829.3 313.5C830.5 313.5 831.9 311.7 833.3 310.9C834.7 310.1 836.3 309.3 837.9 308.9C839.5 308.5 841.2 308.5 842.6 308.6C844.0 308.8 845.2 309.0 846.5 309.8C847.8 310.6 849.2 312.3 850.5 313.5C851.8 314.7 853.1 316.3 854.5 317.2C855.9 318.1 857.8 318.9 859.1 318.8C860.4 318.7 861.4 317.9 862.4 316.8C863.4 315.7 864.1 313.5 865.1 312.2C866.1 310.9 867.7 309.6 868.4 308.9C869.1 308.2 869.2 308.1 869.4 308.0" fill="none" stroke="#8f0f2c" stroke-width="4.4" stroke-linejoin="round"/>
<g clip-path="url(#ns)" fill="none" stroke-linejoin="round"><use href="#pl" stroke-width="5.2"/>
<use href="#pl" stroke-width="6.2" clip-path="url(#tk)"/>
<path d="M48.0 308.8C48.2 308.8 47.7 308.8 49.0 308.9C50.3 309.0 54.1 308.9 55.9 309.3C57.7 309.7 58.4 310.4 59.8 311.5C61.2 312.6 63.1 315.1 64.5 315.9C65.9 316.7 67.0 316.0 68.4 316.2C69.8 316.4 71.3 316.6 73.1 316.8C74.9 317.0 77.2 316.8 79.0 317.5C80.8 318.2 82.2 319.7 83.7 320.8C85.2 321.9 86.8 323.2 88.3 324.1C89.8 325.0 91.2 325.8 92.9 326.1C94.6 326.4 96.7 326.2 98.2 325.7C99.8 325.1 101.0 323.9 102.2 322.8C103.4 321.7 104.5 319.9 105.5 319.1C106.5 318.3 107.1 318.1 108.1 318.2C109.1 318.3 110.2 318.8 111.4 319.5C112.6 320.2 114.3 322.0 115.4 322.4C116.5 322.8 117.0 322.4 118.1 321.9C119.2 321.4 120.8 320.0 122.0 319.5C123.2 319.0 124.1 318.7 125.3 318.8C126.5 318.9 127.9 319.2 129.3 320.1C130.7 321.0 132.4 323.3 133.9 324.4C135.4 325.4 137.1 325.8 138.6 326.4C140.1 327.0 141.5 327.4 143.2 327.8C144.8 328.2 146.7 328.4 148.5 328.5C150.3 328.6 152.2 328.4 153.8 328.1C155.4 327.8 156.8 327.2 157.8 326.5C158.8 325.8 159.0 324.8 159.9 324.1C160.8 323.4 162.0 322.5 163.2 322.4C164.4 322.3 165.8 322.6 167.2 323.4C168.6 324.2 170.2 326.4 171.8 327.4C173.4 328.4 174.6 329.1 176.5 329.4C178.4 329.7 181.1 329.2 183.1 329.1C185.1 329.0 186.6 328.5 188.4 328.5C190.2 328.5 191.8 329.2 193.7 329.1C195.6 329.0 198.1 328.1 199.6 328.1C201.1 328.1 201.5 328.7 202.9 329.1C204.3 329.5 206.3 330.3 208.2 330.7C210.1 331.1 212.0 331.3 214.2 331.4C216.4 331.4 219.3 331.6 221.4 331.0C223.5 330.4 224.9 329.2 226.7 328.1C228.5 327.0 230.7 324.9 232.0 324.1C233.3 323.3 233.4 323.3 234.7 323.2C236.0 323.1 238.5 323.5 240.0 323.7C241.5 323.9 242.0 324.3 243.9 324.4C245.8 324.5 249.2 324.1 251.2 324.4C253.2 324.7 254.6 325.6 255.8 326.1C257.0 326.6 257.5 327.4 258.5 327.2C259.5 327.0 260.7 326.2 261.8 324.8C262.9 323.4 264.0 320.6 265.0 318.5C266.0 316.4 266.8 314.0 267.9 312.2C269.0 310.4 270.5 308.8 271.9 307.6C273.3 306.5 275.2 305.4 276.5 305.3C277.8 305.2 278.7 305.9 279.8 306.9C280.9 307.9 282.1 310.1 283.2 311.5C284.3 312.9 285.3 314.5 286.5 315.5C287.7 316.5 289.1 316.8 290.4 317.5C291.7 318.2 293.2 318.6 294.4 319.5C295.6 320.4 296.7 321.9 297.7 322.8C298.7 323.8 299.2 325.1 300.4 325.2C301.6 325.3 303.8 323.5 305.0 323.4C306.2 323.3 306.6 324.2 307.6 324.8C308.6 325.4 309.6 327.1 310.9 326.8C312.2 326.5 314.1 323.8 315.6 322.8C317.2 321.8 318.7 320.8 320.2 320.8C321.7 320.8 323.2 322.3 324.8 323.0C326.4 323.7 328.1 325.2 329.5 325.2C330.9 325.2 332.1 323.8 333.4 322.8C334.7 321.8 336.0 320.0 337.4 319.1C338.8 318.2 340.6 317.6 342.0 317.2C343.4 316.8 344.2 316.3 346.0 316.4C347.8 316.4 350.5 317.4 352.6 317.5C354.7 317.6 356.7 316.9 358.6 316.8C360.5 316.8 362.5 316.8 363.9 317.2C365.3 317.6 366.1 318.5 367.2 319.5C368.3 320.5 369.5 322.2 370.5 323.4C371.5 324.6 371.9 325.4 373.1 326.5C374.3 327.6 376.2 328.9 377.9 330.1C379.6 331.3 381.4 333.0 383.2 333.6C385.0 334.2 386.7 333.7 388.5 333.6C390.3 333.5 392.0 332.7 393.8 333.0C395.6 333.3 397.5 334.8 399.1 335.4C400.8 336.0 402.1 336.5 403.7 336.7C405.2 336.9 406.2 336.7 408.4 336.7C410.6 336.7 415.0 337.0 417.0 336.7C419.0 336.4 419.1 335.6 420.3 334.7C421.5 333.8 422.8 332.4 424.2 331.4C425.6 330.4 427.4 329.5 428.9 328.7C430.4 327.9 432.0 326.5 433.2 326.5C434.4 326.5 435.1 327.6 436.2 328.7C437.2 329.8 438.5 332.3 439.5 333.4C440.5 334.4 440.7 334.8 442.1 335.0C443.5 335.2 446.0 334.4 448.1 334.4C450.2 334.4 452.5 335.0 454.7 335.0C456.9 335.0 459.1 334.7 461.3 334.4C463.5 334.1 465.9 333.4 467.9 333.4C469.9 333.4 471.0 334.3 473.2 334.4C475.4 334.5 478.7 334.4 481.1 334.2C483.6 334.0 486.1 334.0 487.9 333.4C489.7 332.8 490.7 331.4 491.9 330.5C493.1 329.6 493.9 328.0 495.2 328.1C496.5 328.2 498.5 331.2 499.8 331.4C501.1 331.6 502.0 330.3 503.2 329.1C504.4 327.9 505.8 325.4 507.1 324.1C508.4 322.8 509.7 321.8 511.1 321.5C512.5 321.2 514.3 322.5 515.7 322.5C517.1 322.5 518.3 322.0 519.7 321.5C521.1 321.0 522.9 320.0 524.3 319.5C525.7 319.0 527.1 319.4 528.3 318.6C529.5 317.8 530.5 316.0 531.6 314.8C532.7 313.6 533.8 311.8 534.9 311.5C536.0 311.2 537.0 312.3 538.2 313.3C539.4 314.3 540.9 316.4 542.2 317.5C543.5 318.6 544.6 319.3 546.2 320.1C547.9 320.9 550.4 321.2 552.1 322.1C553.9 323.0 555.3 324.2 556.7 325.4C558.1 326.6 559.5 328.5 560.7 329.4C561.9 330.3 562.8 331.0 564.0 331.0C565.2 331.0 566.7 329.9 568.0 329.4C569.3 328.8 570.6 327.8 571.9 327.7C573.2 327.6 574.7 328.7 575.9 329.1C577.1 329.5 578.0 330.3 579.2 330.1C580.4 329.9 581.9 328.6 583.2 328.1C584.5 327.7 585.7 327.2 587.2 327.4C588.8 327.6 591.0 328.9 592.5 329.4C594.0 329.8 594.6 330.1 596.4 330.1C598.2 330.1 600.6 329.7 603.2 329.4C605.8 329.1 609.4 328.9 611.8 328.1C614.2 327.3 615.7 326.0 617.8 324.8C619.9 323.6 622.0 322.0 624.4 320.8C626.8 319.6 630.1 318.7 632.3 317.8C634.5 316.9 636.2 315.7 637.6 315.5C639.0 315.3 639.8 316.0 640.9 316.8C642.0 317.6 643.1 320.0 644.2 320.1C645.3 320.2 646.3 318.3 647.6 317.5C648.9 316.7 650.6 315.2 652.2 315.1C653.9 315.0 655.7 316.2 657.5 316.8C659.3 317.4 661.4 318.1 662.8 318.8C664.2 319.5 664.8 320.4 665.7 320.8C666.6 321.2 667.1 321.6 668.1 321.2C669.1 320.8 670.7 318.7 672.0 318.6C673.3 318.5 674.8 320.1 676.0 320.8C677.2 321.5 678.1 323.0 679.3 323.0C680.5 323.0 682.0 322.1 683.3 320.8C684.6 319.6 686.0 316.8 687.2 315.5C688.4 314.2 689.5 313.0 690.6 312.9C691.7 312.8 692.8 313.5 693.9 314.8C695.0 316.1 696.0 319.4 697.2 320.8C698.4 322.2 699.8 323.3 701.1 323.4C702.4 323.5 703.7 322.0 705.1 321.5C706.5 321.0 707.7 320.4 709.3 320.4C710.9 320.4 712.9 321.4 714.6 321.5C716.4 321.6 718.3 321.0 719.8 321.2C721.3 321.4 722.5 321.9 723.8 322.8C725.1 323.7 726.7 325.7 727.8 326.5C728.9 327.3 729.3 327.7 730.2 327.4C731.1 327.1 732.2 325.6 733.1 324.8C734.0 324.0 734.6 322.8 735.7 322.8C736.8 322.8 738.5 324.9 739.7 324.8C740.9 324.7 741.9 322.8 743.0 322.1C744.1 321.4 745.2 320.6 746.3 320.8C747.4 321.0 748.5 322.4 749.6 323.4C750.7 324.4 751.9 326.0 752.9 326.8C753.9 327.6 754.6 328.4 755.6 328.1C756.6 327.8 757.7 326.1 758.9 324.8C760.1 323.5 761.5 321.3 762.8 320.1C764.1 318.9 765.7 318.1 766.8 317.5C767.9 316.9 768.3 316.3 769.5 316.2C770.7 316.1 772.5 316.4 774.1 316.8C775.8 317.2 778.0 318.6 779.4 318.8C780.8 319.0 781.6 319.0 782.7 318.2C783.8 317.4 784.9 315.1 786.0 314.2C787.1 313.3 788.4 313.0 789.3 312.9C790.2 312.8 790.5 313.0 791.3 313.5C792.1 314.0 793.1 315.9 794.2 315.9C795.3 315.9 796.7 314.3 797.9 313.5C799.1 312.7 799.9 311.4 801.2 310.9C802.5 310.3 804.1 310.2 805.8 310.2C807.4 310.2 809.5 310.5 811.1 310.9C812.7 311.3 814.0 312.4 815.1 312.5C816.2 312.6 817.0 311.8 817.7 311.5C818.4 311.2 818.6 311.2 819.4 310.6C820.2 310.1 821.6 308.1 822.7 308.2C823.8 308.2 824.9 310.0 826.0 310.9C827.1 311.8 828.1 313.5 829.3 313.5C830.5 313.5 831.9 311.7 833.3 310.9C834.7 310.1 836.3 309.3 837.9 308.9C839.5 308.5 841.2 308.5 842.6 308.6C844.0 308.8 845.2 309.0 846.5 309.8C847.8 310.6 849.2 312.3 850.5 313.5C851.8 314.7 853.1 316.3 854.5 317.2C855.9 318.1 857.8 318.9 859.1 318.8C860.4 318.7 861.4 317.9 862.4 316.8C863.4 315.7 864.1 313.5 865.1 312.2C866.1 310.9 867.7 309.6 868.4 308.9C869.1 308.2 869.2 308.1 869.4 308.0" stroke="#b01231" stroke-width="2.2"/></g>
<path d="M48.0 308.8C48.2 308.8 47.7 308.8 49.0 308.9C50.3 309.0 54.1 308.9 55.9 309.3C57.7 309.7 58.4 310.4 59.8 311.5C61.2 312.6 63.1 315.1 64.5 315.9C65.9 316.7 67.0 316.0 68.4 316.2C69.8 316.4 71.3 316.6 73.1 316.8C74.9 317.0 77.2 316.8 79.0 317.5C80.8 318.2 82.2 319.7 83.7 320.8C85.2 321.9 86.8 323.2 88.3 324.1C89.8 325.0 91.2 325.8 92.9 326.1C94.6 326.4 96.7 326.2 98.2 325.7C99.8 325.1 101.0 323.9 102.2 322.8C103.4 321.7 104.5 319.9 105.5 319.1C106.5 318.3 107.1 318.1 108.1 318.2C109.1 318.3 110.2 318.8 111.4 319.5C112.6 320.2 114.3 322.0 115.4 322.4C116.5 322.8 117.0 322.4 118.1 321.9C119.2 321.4 120.8 320.0 122.0 319.5C123.2 319.0 124.1 318.7 125.3 318.8C126.5 318.9 127.9 319.2 129.3 320.1C130.7 321.0 132.4 323.3 133.9 324.4C135.4 325.4 137.1 325.8 138.6 326.4C140.1 327.0 141.5 327.4 143.2 327.8C144.8 328.2 146.7 328.4 148.5 328.5C150.3 328.6 152.2 328.4 153.8 328.1C155.4 327.8 156.8 327.2 157.8 326.5C158.8 325.8 159.0 324.8 159.9 324.1C160.8 323.4 162.0 322.5 163.2 322.4C164.4 322.3 165.8 322.6 167.2 323.4C168.6 324.2 170.2 326.4 171.8 327.4C173.4 328.4 174.6 329.1 176.5 329.4C178.4 329.7 181.1 329.2 183.1 329.1C185.1 329.0 186.6 328.5 188.4 328.5C190.2 328.5 191.8 329.2 193.7 329.1C195.6 329.0 198.1 328.1 199.6 328.1C201.1 328.1 201.5 328.7 202.9 329.1C204.3 329.5 206.3 330.3 208.2 330.7C210.1 331.1 212.0 331.3 214.2 331.4C216.4 331.4 219.3 331.6 221.4 331.0C223.5 330.4 224.9 329.2 226.7 328.1C228.5 327.0 230.7 324.9 232.0 324.1C233.3 323.3 233.4 323.3 234.7 323.2C236.0 323.1 238.5 323.5 240.0 323.7C241.5 323.9 242.0 324.3 243.9 324.4C245.8 324.5 249.2 324.1 251.2 324.4C253.2 324.7 254.6 325.6 255.8 326.1C257.0 326.6 257.5 327.4 258.5 327.2C259.5 327.0 260.7 326.2 261.8 324.8C262.9 323.4 264.0 320.6 265.0 318.5C266.0 316.4 266.8 314.0 267.9 312.2C269.0 310.4 270.5 308.8 271.9 307.6C273.3 306.5 275.2 305.4 276.5 305.3C277.8 305.2 278.7 305.9 279.8 306.9C280.9 307.9 282.1 310.1 283.2 311.5C284.3 312.9 285.3 314.5 286.5 315.5C287.7 316.5 289.1 316.8 290.4 317.5C291.7 318.2 293.2 318.6 294.4 319.5C295.6 320.4 296.7 321.9 297.7 322.8C298.7 323.8 299.2 325.1 300.4 325.2C301.6 325.3 303.8 323.5 305.0 323.4C306.2 323.3 306.6 324.2 307.6 324.8C308.6 325.4 309.6 327.1 310.9 326.8C312.2 326.5 314.1 323.8 315.6 322.8C317.2 321.8 318.7 320.8 320.2 320.8C321.7 320.8 323.2 322.3 324.8 323.0C326.4 323.7 328.1 325.2 329.5 325.2C330.9 325.2 332.1 323.8 333.4 322.8C334.7 321.8 336.0 320.0 337.4 319.1C338.8 318.2 340.6 317.6 342.0 317.2C343.4 316.8 344.2 316.3 346.0 316.4C347.8 316.4 350.5 317.4 352.6 317.5C354.7 317.6 356.7 316.9 358.6 316.8C360.5 316.8 362.5 316.8 363.9 317.2C365.3 317.6 366.1 318.5 367.2 319.5C368.3 320.5 369.5 322.2 370.5 323.4C371.5 324.6 371.9 325.4 373.1 326.5C374.3 327.6 376.2 328.9 377.9 330.1C379.6 331.3 381.4 333.0 383.2 333.6C385.0 334.2 386.7 333.7 388.5 333.6C390.3 333.5 392.0 332.7 393.8 333.0C395.6 333.3 397.5 334.8 399.1 335.4C400.8 336.0 402.1 336.5 403.7 336.7C405.2 336.9 406.2 336.7 408.4 336.7C410.6 336.7 415.0 337.0 417.0 336.7C419.0 336.4 419.1 335.6 420.3 334.7C421.5 333.8 422.8 332.4 424.2 331.4C425.6 330.4 427.4 329.5 428.9 328.7C430.4 327.9 432.0 326.5 433.2 326.5C434.4 326.5 435.1 327.6 436.2 328.7C437.2 329.8 438.5 332.3 439.5 333.4C440.5 334.4 440.7 334.8 442.1 335.0C443.5 335.2 446.0 334.4 448.1 334.4C450.2 334.4 452.5 335.0 454.7 335.0C456.9 335.0 459.1 334.7 461.3 334.4C463.5 334.1 465.9 333.4 467.9 333.4C469.9 333.4 471.0 334.3 473.2 334.4C475.4 334.5 478.7 334.4 481.1 334.2C483.6 334.0 486.1 334.0 487.9 333.4C489.7 332.8 490.7 331.4 491.9 330.5C493.1 329.6 493.9 328.0 495.2 328.1C496.5 328.2 498.5 331.2 499.8 331.4C501.1 331.6 502.0 330.3 503.2 329.1C504.4 327.9 505.8 325.4 507.1 324.1C508.4 322.8 509.7 321.8 511.1 321.5C512.5 321.2 514.3 322.5 515.7 322.5C517.1 322.5 518.3 322.0 519.7 321.5C521.1 321.0 522.9 320.0 524.3 319.5C525.7 319.0 527.1 319.4 528.3 318.6C529.5 317.8 530.5 316.0 531.6 314.8C532.7 313.6 533.8 311.8 534.9 311.5C536.0 311.2 537.0 312.3 538.2 313.3C539.4 314.3 540.9 316.4 542.2 317.5C543.5 318.6 544.6 319.3 546.2 320.1C547.9 320.9 550.4 321.2 552.1 322.1C553.9 323.0 555.3 324.2 556.7 325.4C558.1 326.6 559.5 328.5 560.7 329.4C561.9 330.3 562.8 331.0 564.0 331.0C565.2 331.0 566.7 329.9 568.0 329.4C569.3 328.8 570.6 327.8 571.9 327.7C573.2 327.6 574.7 328.7 575.9 329.1C577.1 329.5 578.0 330.3 579.2 330.1C580.4 329.9 581.9 328.6 583.2 328.1C584.5 327.7 585.7 327.2 587.2 327.4C588.8 327.6 591.0 328.9 592.5 329.4C594.0 329.8 594.6 330.1 596.4 330.1C598.2 330.1 600.6 329.7 603.2 329.4C605.8 329.1 609.4 328.9 611.8 328.1C614.2 327.3 615.7 326.0 617.8 324.8C619.9 323.6 622.0 322.0 624.4 320.8C626.8 319.6 630.1 318.7 632.3 317.8C634.5 316.9 636.2 315.7 637.6 315.5C639.0 315.3 639.8 316.0 640.9 316.8C642.0 317.6 643.1 320.0 644.2 320.1C645.3 320.2 646.3 318.3 647.6 317.5C648.9 316.7 650.6 315.2 652.2 315.1C653.9 315.0 655.7 316.2 657.5 316.8C659.3 317.4 661.4 318.1 662.8 318.8C664.2 319.5 664.8 320.4 665.7 320.8C666.6 321.2 667.1 321.6 668.1 321.2C669.1 320.8 670.7 318.7 672.0 318.6C673.3 318.5 674.8 320.1 676.0 320.8C677.2 321.5 678.1 323.0 679.3 323.0C680.5 323.0 682.0 322.1 683.3 320.8C684.6 319.6 686.0 316.8 687.2 315.5C688.4 314.2 689.5 313.0 690.6 312.9C691.7 312.8 692.8 313.5 693.9 314.8C695.0 316.1 696.0 319.4 697.2 320.8C698.4 322.2 699.8 323.3 701.1 323.4C702.4 323.5 703.7 322.0 705.1 321.5C706.5 321.0 707.7 320.4 709.3 320.4C710.9 320.4 712.9 321.4 714.6 321.5C716.4 321.6 718.3 321.0 719.8 321.2C721.3 321.4 722.5 321.9 723.8 322.8C725.1 323.7 726.7 325.7 727.8 326.5C728.9 327.3 729.3 327.7 730.2 327.4C731.1 327.1 732.2 325.6 733.1 324.8C734.0 324.0 734.6 322.8 735.7 322.8C736.8 322.8 738.5 324.9 739.7 324.8C740.9 324.7 741.9 322.8 743.0 322.1C744.1 321.4 745.2 320.6 746.3 320.8C747.4 321.0 748.5 322.4 749.6 323.4C750.7 324.4 751.9 326.0 752.9 326.8C753.9 327.6 754.6 328.4 755.6 328.1C756.6 327.8 757.7 326.1 758.9 324.8C760.1 323.5 761.5 321.3 762.8 320.1C764.1 318.9 765.7 318.1 766.8 317.5C767.9 316.9 768.3 316.3 769.5 316.2C770.7 316.1 772.5 316.4 774.1 316.8C775.8 317.2 778.0 318.6 779.4 318.8C780.8 319.0 781.6 319.0 782.7 318.2C783.8 317.4 784.9 315.1 786.0 314.2C787.1 313.3 788.4 313.0 789.3 312.9C790.2 312.8 790.5 313.0 791.3 313.5C792.1 314.0 793.1 315.9 794.2 315.9C795.3 315.9 796.7 314.3 797.9 313.5C799.1 312.7 799.9 311.4 801.2 310.9C802.5 310.3 804.1 310.2 805.8 310.2C807.4 310.2 809.5 310.5 811.1 310.9C812.7 311.3 814.0 312.4 815.1 312.5C816.2 312.6 817.0 311.8 817.7 311.5C818.4 311.2 818.6 311.2 819.4 310.6C820.2 310.1 821.6 308.1 822.7 308.2C823.8 308.2 824.9 310.0 826.0 310.9C827.1 311.8 828.1 313.5 829.3 313.5C830.5 313.5 831.9 311.7 833.3 310.9C834.7 310.1 836.3 309.3 837.9 308.9C839.5 308.5 841.2 308.5 842.6 308.6C844.0 308.8 845.2 309.0 846.5 309.8C847.8 310.6 849.2 312.3 850.5 313.5C851.8 314.7 853.1 316.3 854.5 317.2C855.9 318.1 857.8 318.9 859.1 318.8C860.4 318.7 861.4 317.9 862.4 316.8C863.4 315.7 864.1 313.5 865.1 312.2C866.1 310.9 867.7 309.6 868.4 308.9C869.1 308.2 869.2 308.1 869.4 308.0" fill="none" stroke="#fff" stroke-width="1.4" clip-path="url(#sw)"/>
<text transform="translate(46.7 392.2) scale(0.84 1)" font-size="9.4" text-anchor="middle" fill="#2a2a2a">0</text>
<text transform="translate(78.4 392.2) scale(0.84 1)" font-size="9.4" text-anchor="middle" fill="#2a2a2a">5</text>
<text transform="translate(106.8 392.2) scale(0.84 1)" font-size="9.4" text-anchor="middle" fill="#2a2a2a">10</text>
<text transform="translate(135.2 392.2) scale(0.84 1)" font-size="9.4" text-anchor="middle" fill="#2a2a2a">15</text>
<text transform="translate(163.6 392.2) scale(0.84 1)" font-size="9.4" text-anchor="middle" fill="#2a2a2a">20</text>
<text transform="translate(192.0 392.2) scale(0.84 1)" font-size="9.4" text-anchor="middle" fill="#2a2a2a">25</text>
<text transform="translate(220.4 392.2) scale(0.84 1)" font-size="9.4" text-anchor="middle" fill="#2a2a2a">30</text>
<text transform="translate(248.8 392.2) scale(0.84 1)" font-size="9.4" text-anchor="middle" fill="#2a2a2a">35</text>
<text transform="translate(277.2 392.2) scale(0.84 1)" font-size="9.4" text-anchor="middle" fill="#2a2a2a">40</text>
<text transform="translate(305.6 392.2) scale(0.84 1)" font-size="9.4" text-anchor="middle" fill="#2a2a2a">45</text>
<text transform="translate(334.0 392.2) scale(0.84 1)" font-size="9.4" text-anchor="middle" fill="#2a2a2a">50</text>
<text transform="translate(362.4 392.2) scale(0.84 1)" font-size="9.4" text-anchor="middle" fill="#2a2a2a">55</text>
<text transform="translate(390.8 392.2) scale(0.84 1)" font-size="9.4" text-anchor="middle" fill="#2a2a2a">60</text>
<text transform="translate(419.2 392.2) scale(0.84 1)" font-size="9.4" text-anchor="middle" fill="#2a2a2a">65</text>
<text transform="translate(447.6 392.2) scale(0.84 1)" font-size="9.4" text-anchor="middle" fill="#2a2a2a">70</text>
<text transform="translate(476.0 392.2) scale(0.84 1)" font-size="9.4" text-anchor="middle" fill="#2a2a2a">75</text>
<text transform="translate(504.4 392.2) scale(0.84 1)" font-size="9.4" text-anchor="middle" fill="#2a2a2a">80</text>
<text transform="translate(532.8 392.2) scale(0.84 1)" font-size="9.4" text-anchor="middle" fill="#2a2a2a">85</text>
<text transform="translate(561.2 392.2) scale(0.84 1)" font-size="9.4" text-anchor="middle" fill="#2a2a2a">90</text>
<text transform="translate(589.6 392.2) scale(0.84 1)" font-size="9.4" text-anchor="middle" fill="#2a2a2a">95</text>
<text transform="translate(618.0 392.2) scale(0.84 1)" font-size="9.4" text-anchor="middle" fill="#2a2a2a">100</text>
<text transform="translate(646.4 392.2) scale(0.84 1)" font-size="9.4" text-anchor="middle" fill="#2a2a2a">105</text>
<text transform="translate(674.8 392.2) scale(0.84 1)" font-size="9.4" text-anchor="middle" fill="#2a2a2a">110</text>
<text transform="translate(703.2 392.2) scale(0.84 1)" font-size="9.4" text-anchor="middle" fill="#2a2a2a">115</text>
<text transform="translate(731.6 392.2) scale(0.84 1)" font-size="9.4" text-anchor="middle" fill="#2a2a2a">120</text>
<text transform="translate(760.0 392.2) scale(0.84 1)" font-size="9.4" text-anchor="middle" fill="#2a2a2a">125</text>
<text transform="translate(788.4 392.2) scale(0.84 1)" font-size="9.4" text-anchor="middle" fill="#2a2a2a">130</text>
<text transform="translate(816.8 392.2) scale(0.84 1)" font-size="9.4" text-anchor="middle" fill="#2a2a2a">135</text>
<text transform="translate(845.2 392.2) scale(0.84 1)" font-size="9.4" text-anchor="middle" fill="#2a2a2a">140</text>
<text transform="translate(80.6 290.8) rotate(-90)" font-size="13.4" fill="#333" textLength="82.6" lengthAdjust="spacingAndGlyphs">290 - Porta Romana</text>
<text transform="translate(80.5 407.0) rotate(-90) scale(0.690 1)" font-size="13" text-anchor="end" fill="#333">4.8</text>
<text transform="translate(102.1 299.4) rotate(-90)" font-size="13.4" fill="#333" textLength="66.0" lengthAdjust="spacingAndGlyphs">224 - Siena Sud</text>
<text transform="translate(102.0 407.0) rotate(-90) scale(0.690 1)" font-size="13" text-anchor="end" fill="#333">8.6</text>
<text transform="translate(142.5 299.6) rotate(-90)" font-size="13.4" fill="#333" textLength="72.0" lengthAdjust="spacingAndGlyphs">220 - Volte Basse</text>
<text transform="translate(142.4 407.0) rotate(-90) scale(0.690 1)" font-size="13" text-anchor="end" fill="#333">15.7</text>
<text transform="translate(167.5 295.1) rotate(-90)" font-size="13.4" fill="#333" textLength="59.3" lengthAdjust="spacingAndGlyphs">252 - Sovicille</text>
<text transform="translate(167.4 407.0) rotate(-90) scale(0.690 1)" font-size="13" text-anchor="end" fill="#333">20.1</text>
<text transform="translate(192.5 303.1) rotate(-90)" font-size="13.4" fill="#333" textLength="48.2" lengthAdjust="spacingAndGlyphs">203 - Rosia</text>
<text transform="translate(192.4 407.0) rotate(-90) scale(0.690 1)" font-size="13" text-anchor="end" fill="#333">24.5</text>
<text transform="translate(207.2 303.9) rotate(-90)" font-size="13.4" fill="#333" textLength="61.6" lengthAdjust="spacingAndGlyphs">197 - Settore 1</text>
<text transform="translate(207.1 407.0) rotate(-90) scale(0.690 1)" font-size="13" text-anchor="end" fill="#333">27.1</text>
<text transform="translate(234.2 296.2) rotate(-90)" font-size="13.4" fill="#333" textLength="93.7" lengthAdjust="spacingAndGlyphs">248 - San Rocco a Pilli</text>
<text transform="translate(234.1 407.0) rotate(-90) scale(0.690 1)" font-size="13" text-anchor="end" fill="#333">32.5</text>
<text transform="translate(248.6 300.7) rotate(-90)" font-size="13.4" fill="#333" textLength="62.3" lengthAdjust="spacingAndGlyphs">218 - Settore 2</text>
<text transform="translate(248.5 407.0) rotate(-90) scale(0.690 1)" font-size="13" text-anchor="end" fill="#333">34.3</text>
<text transform="translate(278.9 280.1) rotate(-90)" font-size="13.4" fill="#333" textLength="47.6" lengthAdjust="spacingAndGlyphs">364 - Grotti</text>
<text transform="translate(278.8 407.0) rotate(-90) scale(0.690 1)" font-size="13" text-anchor="end" fill="#333">40.3</text>
<text transform="translate(295.9 291.1) rotate(-90)" font-size="13.4" fill="#333" textLength="88.2" lengthAdjust="spacingAndGlyphs">286 - Ville di Corsano</text>
<text transform="translate(295.8 407.0) rotate(-90) scale(0.690 1)" font-size="13" text-anchor="end" fill="#333">41.9</text>
<text transform="translate(317.3 298.3) rotate(-90)" font-size="13.4" fill="#333" textLength="77.6" lengthAdjust="spacingAndGlyphs">233 - Radi - Sett. 3</text>
<text transform="translate(317.2 407.0) rotate(-90) scale(0.690 1)" font-size="13" text-anchor="end" fill="#333">46.4</text>
<text transform="translate(349.5 291.3) rotate(-90)" font-size="13.4" fill="#333" textLength="70.0" lengthAdjust="spacingAndGlyphs">283 - Vescovado</text>
<text transform="translate(349.4 407.0) rotate(-90) scale(0.690 1)" font-size="13" text-anchor="end" fill="#333">52.1</text>
<text transform="translate(377.6 302.0) rotate(-90)" font-size="13.4" fill="#333" textLength="62.7" lengthAdjust="spacingAndGlyphs">207 - Settore 4</text>
<text transform="translate(377.5 407.0) rotate(-90) scale(0.690 1)" font-size="13" text-anchor="end" fill="#333">57.1</text>
<text transform="translate(421.4 310.1) rotate(-90)" font-size="13.4" fill="#333" textLength="78.7" lengthAdjust="spacingAndGlyphs">149 - Ponte d'Arbia</text>
<text transform="translate(421.3 407.0) rotate(-90) scale(0.690 1)" font-size="13" text-anchor="end" fill="#333">64.8</text>
<text transform="translate(463.1 307.8) rotate(-90)" font-size="13.4" fill="#333" textLength="80.9" lengthAdjust="spacingAndGlyphs">165 - Pod. Caggiolo</text>
<text transform="translate(463.0 407.0) rotate(-90) scale(0.690 1)" font-size="13" text-anchor="end" fill="#333">72.0</text>
<text transform="translate(486.1 307.6) rotate(-90)" font-size="13.4" fill="#333" textLength="62.6" lengthAdjust="spacingAndGlyphs">166 - Settore 6</text>
<text transform="translate(486.0 407.0) rotate(-90) scale(0.690 1)" font-size="13" text-anchor="end" fill="#333">76.2</text>
<text transform="translate(517.5 291.5) rotate(-90)" font-size="13.4" fill="#333" textLength="113.4" lengthAdjust="spacingAndGlyphs">281 - San Martino in Grania</text>
<text transform="translate(517.4 407.0) rotate(-90) scale(0.690 1)" font-size="13" text-anchor="end" fill="#333">81.4</text>
<text transform="translate(540.5 283.0) rotate(-90)" font-size="13.4" fill="#333" textLength="77.0" lengthAdjust="spacingAndGlyphs">338 - Bv. per Arbia</text>
<text transform="translate(540.4 407.0) rotate(-90) scale(0.690 1)" font-size="13" text-anchor="end" fill="#333">85.5</text>
<text transform="translate(583.2 304.2) rotate(-90)" font-size="13.4" fill="#333" textLength="45.6" lengthAdjust="spacingAndGlyphs">188 - Arbia</text>
<text transform="translate(583.1 407.0) rotate(-90) scale(0.690 1)" font-size="13" text-anchor="end" fill="#333">93.3</text>
<text transform="translate(615.5 301.7) rotate(-90)" font-size="13.4" fill="#333" textLength="37.6" lengthAdjust="spacingAndGlyphs">206 - P.L.</text>
<text transform="translate(615.4 407.0) rotate(-90) scale(0.690 1)" font-size="13" text-anchor="end" fill="#333">99.1</text>
<text transform="translate(641.2 286.9) rotate(-90)" font-size="13.4" fill="#333" textLength="106.9" lengthAdjust="spacingAndGlyphs">302 - Croce di Carnesecca</text>
<text transform="translate(641.1 407.0) rotate(-90) scale(0.690 1)" font-size="13" text-anchor="end" fill="#333">103.5</text>
<text transform="translate(670.0 293.3) rotate(-90)" font-size="13.4" fill="#333" textLength="133.3" lengthAdjust="spacingAndGlyphs">265 - Guistrigona - inizio sterrato</text>
<text transform="translate(669.9 407.0) rotate(-90) scale(0.690 1)" font-size="13" text-anchor="end" fill="#333">108.5</text>
<text transform="translate(708.9 294.7) rotate(-90)" font-size="13.4" fill="#333" textLength="63.4" lengthAdjust="spacingAndGlyphs">255 - San Piero</text>
<text transform="translate(708.8 407.0) rotate(-90) scale(0.690 1)" font-size="13" text-anchor="end" fill="#333">115.5</text>
<text transform="translate(726.6 298.5) rotate(-90)" font-size="13.4" fill="#333" textLength="75.4" lengthAdjust="spacingAndGlyphs">230 - Monteaperti</text>
<text transform="translate(726.5 407.0) rotate(-90) scale(0.690 1)" font-size="13" text-anchor="end" fill="#333">119.1</text>
<text transform="translate(742.4 295.6) rotate(-90)" font-size="13.4" fill="#333" textLength="74.3" lengthAdjust="spacingAndGlyphs">247 - Vico d'Arbia</text>
<text transform="translate(742.3 407.0) rotate(-90) scale(0.690 1)" font-size="13" text-anchor="end" fill="#333">121.0</text>
<text transform="translate(758.8 302.8) rotate(-90)" font-size="13.4" fill="#333" textLength="70.0" lengthAdjust="spacingAndGlyphs">203 - Settore n.9</text>
<text transform="translate(758.7 407.0) rotate(-90) scale(0.690 1)" font-size="13" text-anchor="end" fill="#333">124.5</text>
<text transform="translate(774.5 288.5) rotate(-90)" font-size="13.4" fill="#333" textLength="77.8" lengthAdjust="spacingAndGlyphs">304 - Colle Pinzuto</text>
<text transform="translate(774.4 407.0) rotate(-90) scale(0.690 1)" font-size="13" text-anchor="end" fill="#333">126.8</text>
<text transform="translate(791.6 288.4) rotate(-90)" font-size="13.4" fill="#333" textLength="76.0" lengthAdjust="spacingAndGlyphs">305 - Settore n.10</text>
<text transform="translate(791.5 407.0) rotate(-90) scale(0.690 1)" font-size="13" text-anchor="end" fill="#333">130.6</text>
<text transform="translate(804.5 285.8) rotate(-90)" font-size="13.4" fill="#333" textLength="56.3" lengthAdjust="spacingAndGlyphs">321 - Le Tolfe</text>
<text transform="translate(804.4 407.0) rotate(-90) scale(0.690 1)" font-size="13" text-anchor="end" fill="#333">131.9</text>
<text transform="translate(819.0 283.6) rotate(-90)" font-size="13.4" fill="#333" textLength="47.9" lengthAdjust="spacingAndGlyphs">338 - Siena</text>
<text transform="translate(818.9 407.0) rotate(-90) scale(0.690 1)" font-size="13" text-anchor="end" fill="#333">134.5</text>
<text transform="translate(834.1 290.3) rotate(-90)" font-size="13.4" fill="#333" textLength="81.8" lengthAdjust="spacingAndGlyphs">291 - Sovr. Ferrovia</text>
<text transform="translate(834.0 407.0) rotate(-90) scale(0.690 1)" font-size="13" text-anchor="end" fill="#333">137.2</text>
<text transform="translate(860.8 295.6) rotate(-90)" font-size="13.4" fill="#333" textLength="100.0" lengthAdjust="spacingAndGlyphs">249 - via di Fontebranda</text>
<text transform="translate(860.7 407.0) rotate(-90) scale(0.690 1)" font-size="13" text-anchor="end" fill="#333">142.7</text>
<text transform="translate(53.8 407.0) rotate(-90) scale(0.72 1)" font-size="13" font-weight="bold" text-anchor="end" fill="#000">0.0</text>
<text transform="translate(874.9 407.0) rotate(-90) scale(0.72 1)" font-size="13" font-weight="bold" text-anchor="end" fill="#000">144.3</text>
<text transform="translate(208.6 363.0) scale(0.76 1)" font-size="12.8" font-weight="bold" text-anchor="middle" fill="#fff" stroke="#fff" stroke-width="3" stroke-linejoin="round">1</text>
<text transform="translate(208.6 363.0) scale(0.76 1)" font-size="12.8" font-weight="bold" text-anchor="middle" fill="#000" stroke="#000" stroke-width="0.3">1</text>
<text transform="translate(208.6 375.8) scale(0.76 1)" font-size="12.8" font-weight="bold" text-anchor="middle" fill="#fff" stroke="#fff" stroke-width="3" stroke-linejoin="round">2.1 km</text>
<text transform="translate(208.6 375.8) scale(0.76 1)" font-size="12.8" font-weight="bold" text-anchor="middle" fill="#000" stroke="#000" stroke-width="0.3">2.1 km</text>
<text transform="translate(261.0 363.0) scale(0.76 1)" font-size="12.8" font-weight="bold" text-anchor="middle" fill="#fff" stroke="#fff" stroke-width="3" stroke-linejoin="round">2</text>
<text transform="translate(261.0 363.0) scale(0.76 1)" font-size="12.8" font-weight="bold" text-anchor="middle" fill="#000" stroke="#000" stroke-width="0.3">2</text>
<text transform="translate(260.8 375.8) scale(0.76 1)" font-size="12.8" font-weight="bold" text-anchor="middle" fill="#fff" stroke="#fff" stroke-width="3" stroke-linejoin="round">5.8 km</text>
<text transform="translate(260.8 375.8) scale(0.76 1)" font-size="12.8" font-weight="bold" text-anchor="middle" fill="#000" stroke="#000" stroke-width="0.3">5.8 km</text>
<text transform="translate(323.1 363.0) scale(0.76 1)" font-size="12.8" font-weight="bold" text-anchor="middle" fill="#fff" stroke="#fff" stroke-width="3" stroke-linejoin="round">3</text>
<text transform="translate(323.1 363.0) scale(0.76 1)" font-size="12.8" font-weight="bold" text-anchor="middle" fill="#000" stroke="#000" stroke-width="0.3">3</text>
<text transform="translate(323.1 375.8) scale(0.76 1)" font-size="12.8" font-weight="bold" text-anchor="middle" fill="#fff" stroke="#fff" stroke-width="3" stroke-linejoin="round">4.4 km</text>
<text transform="translate(323.1 375.8) scale(0.76 1)" font-size="12.8" font-weight="bold" text-anchor="middle" fill="#000" stroke="#000" stroke-width="0.3">4.4 km</text>
<text transform="translate(389.6 363.0) scale(0.76 1)" font-size="12.8" font-weight="bold" text-anchor="middle" fill="#fff" stroke="#fff" stroke-width="3" stroke-linejoin="round">4</text>
<text transform="translate(389.6 363.0) scale(0.76 1)" font-size="12.8" font-weight="bold" text-anchor="middle" fill="#000" stroke="#000" stroke-width="0.3">4</text>
<text transform="translate(389.5 375.8) scale(0.76 1)" font-size="12.8" font-weight="bold" text-anchor="middle" fill="#fff" stroke="#fff" stroke-width="3" stroke-linejoin="round">6.4 km</text>
<text transform="translate(389.5 375.8) scale(0.76 1)" font-size="12.8" font-weight="bold" text-anchor="middle" fill="#000" stroke="#000" stroke-width="0.3">6.4 km</text>
<text transform="translate(446.5 363.0) scale(0.76 1)" font-size="12.8" font-weight="bold" text-anchor="middle" fill="#fff" stroke="#fff" stroke-width="3" stroke-linejoin="round">5</text>
<text transform="translate(446.5 363.0) scale(0.76 1)" font-size="12.8" font-weight="bold" text-anchor="middle" fill="#000" stroke="#000" stroke-width="0.3">5</text>
<text transform="translate(446.7 375.8) scale(0.76 1)" font-size="12.8" font-weight="bold" text-anchor="middle" fill="#fff" stroke="#fff" stroke-width="3" stroke-linejoin="round">9.3 km</text>
<text transform="translate(446.7 375.8) scale(0.76 1)" font-size="12.8" font-weight="bold" text-anchor="middle" fill="#000" stroke="#000" stroke-width="0.3">9.3 km</text>
<text transform="translate(511.6 363.0) scale(0.76 1)" font-size="12.8" font-weight="bold" text-anchor="middle" fill="#fff" stroke="#fff" stroke-width="3" stroke-linejoin="round">6</text>
<text transform="translate(511.6 363.0) scale(0.76 1)" font-size="12.8" font-weight="bold" text-anchor="middle" fill="#000" stroke="#000" stroke-width="0.3">6</text>
<text transform="translate(511.7 375.8) scale(0.76 1)" font-size="12.8" font-weight="bold" text-anchor="middle" fill="#fff" stroke="#fff" stroke-width="3" stroke-linejoin="round">9.4 km</text>
<text transform="translate(511.7 375.8) scale(0.76 1)" font-size="12.8" font-weight="bold" text-anchor="middle" fill="#000" stroke="#000" stroke-width="0.3">9.4 km</text>
<text transform="translate(668.7 363.0) scale(0.76 1)" font-size="12.8" font-weight="bold" text-anchor="middle" fill="#fff" stroke="#fff" stroke-width="3" stroke-linejoin="round">7</text>
<text transform="translate(668.7 363.0) scale(0.76 1)" font-size="12.8" font-weight="bold" text-anchor="middle" fill="#000" stroke="#000" stroke-width="0.3">7</text>
<text transform="translate(668.5 375.8) scale(0.76 1)" font-size="12.8" font-weight="bold" text-anchor="middle" fill="#fff" stroke="#fff" stroke-width="3" stroke-linejoin="round">1.1 km</text>
<text transform="translate(668.5 375.8) scale(0.76 1)" font-size="12.8" font-weight="bold" text-anchor="middle" fill="#000" stroke="#000" stroke-width="0.3">1.1 km</text>
<text transform="translate(729.6 363.0) scale(0.76 1)" font-size="12.8" font-weight="bold" text-anchor="middle" fill="#fff" stroke="#fff" stroke-width="3" stroke-linejoin="round">8</text>
<text transform="translate(729.6 363.0) scale(0.76 1)" font-size="12.8" font-weight="bold" text-anchor="middle" fill="#000" stroke="#000" stroke-width="0.3">8</text>
<text transform="translate(717.7 375.8) scale(0.76 1)" font-size="12.8" font-weight="bold" text-anchor="middle" fill="#fff" stroke="#fff" stroke-width="3" stroke-linejoin="round">0.6 km</text>
<text transform="translate(717.7 375.8) scale(0.76 1)" font-size="12.8" font-weight="bold" text-anchor="middle" fill="#000" stroke="#000" stroke-width="0.3">0.6 km</text>
<text transform="translate(764.4 363.0) scale(0.76 1)" font-size="12.8" font-weight="bold" text-anchor="middle" fill="#fff" stroke="#fff" stroke-width="3" stroke-linejoin="round">9</text>
<text transform="translate(764.4 363.0) scale(0.76 1)" font-size="12.8" font-weight="bold" text-anchor="middle" fill="#000" stroke="#000" stroke-width="0.3">9</text>
<text transform="translate(764.4 375.8) scale(0.76 1)" font-size="12.8" font-weight="bold" text-anchor="middle" fill="#fff" stroke="#fff" stroke-width="3" stroke-linejoin="round">2.4 km</text>
<text transform="translate(764.4 375.8) scale(0.76 1)" font-size="12.8" font-weight="bold" text-anchor="middle" fill="#000" stroke="#000" stroke-width="0.3">2.4 km</text>
<text transform="translate(797.7 363.0) scale(0.76 1)" font-size="12.8" font-weight="bold" text-anchor="middle" fill="#fff" stroke="#fff" stroke-width="3" stroke-linejoin="round">10</text>
<text transform="translate(797.7 363.0) scale(0.76 1)" font-size="12.8" font-weight="bold" text-anchor="middle" fill="#000" stroke="#000" stroke-width="0.3">10</text>
<text transform="translate(807.0 375.8) scale(0.76 1)" font-size="12.8" font-weight="bold" text-anchor="middle" fill="#fff" stroke="#fff" stroke-width="3" stroke-linejoin="round">1.1 km</text>
<text transform="translate(807.0 375.8) scale(0.76 1)" font-size="12.8" font-weight="bold" text-anchor="middle" fill="#000" stroke="#000" stroke-width="0.3">1.1 km</text>
<g stroke="#000" stroke-width="1.35" fill="none" stroke-linecap="butt">
<path d="M315.1 215V147.3L306.4 137M315.1 147.3L324 137"/>
<path d="M305.6 139.8V136H309.4M324.9 139.8V136H321.1" stroke-width="1.2"/>
<path d="M738.3 219.5V157"/>
<path d="M728.1 142.8L736.9 153M749 142.8L739.9 153"/>
<path d="M737.4 150.2V153.8H734M739.4 150.2V153.8H742.8" stroke-width="1.2"/>
</g>
<text transform="translate(308.0 132.9) scale(0.68 1)" font-size="9.8" font-style="italic" text-anchor="middle" fill="#000">MF</text>
<text transform="translate(324.0 132.9) scale(0.68 1)" font-size="9.8" font-style="italic" text-anchor="middle" fill="#000">GF</text>
<text transform="translate(727.0 139.4) scale(0.68 1)" font-size="9.8" font-style="italic" text-anchor="middle" fill="#000">MF</text>
<text transform="translate(753.6 139.4) scale(0.68 1)" font-size="9.8" font-style="italic" text-anchor="middle" fill="#000">GF</text>
<path d="M49.2 437.4V447.3H870.2V437.4" fill="none" stroke="#8e8e8e" stroke-width="1.2"/>
<text transform="translate(458.6 443.8) scale(0.62 1)" font-size="14" text-anchor="middle" fill="#a9a9a9">SI</text>
<g transform="translate(873.0 382) rotate(-90)" fill="none" stroke="#000" stroke-width="1.6" stroke-linecap="round" stroke-linejoin="round">
<path d="M7.6 1.2C5.5 0.2 1 0 1 2.2C1 4.6 7.8 3 7.8 5.6C7.8 7.8 3 7.4 0.8 6.4"/>
<path d="M10.2 6.9L13.4 0.9L16.8 6.9Z"/>
<path d="M25.6 1.2C23.5 0.2 19 0 19 2.2C19 4.6 25.8 3 25.8 5.6C25.8 7.8 21 7.4 18.8 6.4"/>
</g>
<path d="M18.2 74.4H37.5Q40.2 74.4 40.2 77.1V301.1A12.35 12.35 0 0 1 15.5 301.1V77.1Q15.5 74.4 18.2 74.4Z" fill="url(#gl)" stroke="#1c9a2d" stroke-width="2.6"/>
<circle cx="27.8" cy="301.1" r="10.4" fill="url(#gg)" stroke="#12241a" stroke-width="1.4"/>
<text transform="translate(33.6 280) rotate(-90)" font-size="16" font-weight="bold" fill="#111" stroke="#111" stroke-width="0.35" textLength="88.5" lengthAdjust="spacingAndGlyphs">346 - SIENA</text>
<text transform="translate(32.6 187.3) rotate(-90)" font-size="12.8" font-weight="bold" fill="#111" stroke="#111" stroke-width="0.25" textLength="107" lengthAdjust="spacingAndGlyphs">(Fortezza Medicea)</text>
<path d="M881 125.8H899.8Q902.5 125.8 902.5 128.5V305.2A12.1 12.1 0 0 1 878.3 305.2V128.5Q878.3 125.8 881 125.8Z" fill="url(#gr)" stroke="#e8000c" stroke-width="2.9"/>
<circle cx="890.3" cy="305.05" r="10.1" fill="url(#rg)" stroke="#1a221c" stroke-width="1.4"/>
<text transform="translate(897.6 288) rotate(-90)" font-size="16" font-weight="bold" fill="#111" stroke="#111" stroke-width="0.35" textLength="87" lengthAdjust="spacingAndGlyphs">318 - SIENA</text>
<text transform="translate(897.6 194.8) rotate(-90)" font-size="12.8" font-weight="bold" fill="#111" stroke="#111" stroke-width="0.25" textLength="61.7" lengthAdjust="spacingAndGlyphs">( Il Campo)</text>
<g transform="translate(27.8 301.2)" fill="none" stroke="#fff" stroke-linecap="round" stroke-linejoin="round"><circle cx="-5.4" cy="3.1" r="2.7" stroke-width="1.5"/><circle cx="5.4" cy="2.9" r="2.7" stroke-width="1.5"/><path d="M-5.4 3.1L-2.2 -0.6H3.4L5.4 2.9M0 3L-2.2 -0.6M0 3L3.4 -0.6" stroke-width="0.9"/><path d="M-3.9 -4.6L3.4 -5.2" stroke-width="2.7"/><path d="M3.2 -4.6L4.9 -1.2" stroke-width="1.4"/><path d="M-3.2 -3.6L-0.8 -1.4L-0.6 2" stroke-width="1.9"/></g>
<g transform="translate(890.3 305.0)" fill="none" stroke="#fff" stroke-linecap="round" stroke-linejoin="round"><circle cx="-5.1" cy="3.8" r="2.6" stroke-width="1.4"/><circle cx="4.8" cy="3.6" r="2.6" stroke-width="1.4"/><path d="M-5.1 3.8L-1.6 0.2H3L4.8 3.6M-0.2 3.6L-1.6 0.2M-0.2 3.6L3 0.2" stroke-width="0.9"/><circle cx="0.3" cy="-8.7" r="1.5" fill="#fff" stroke="none"/><path d="M0 -6.4L-2.4 -1.6" stroke-width="3.7"/><path d="M0.2 -5.8L3.2 -2.6" stroke-width="1.5"/><path d="M-2.4 -1.4L0 0.6L-0.6 3.2" stroke-width="2"/></g>
</svg>
</body></html>
